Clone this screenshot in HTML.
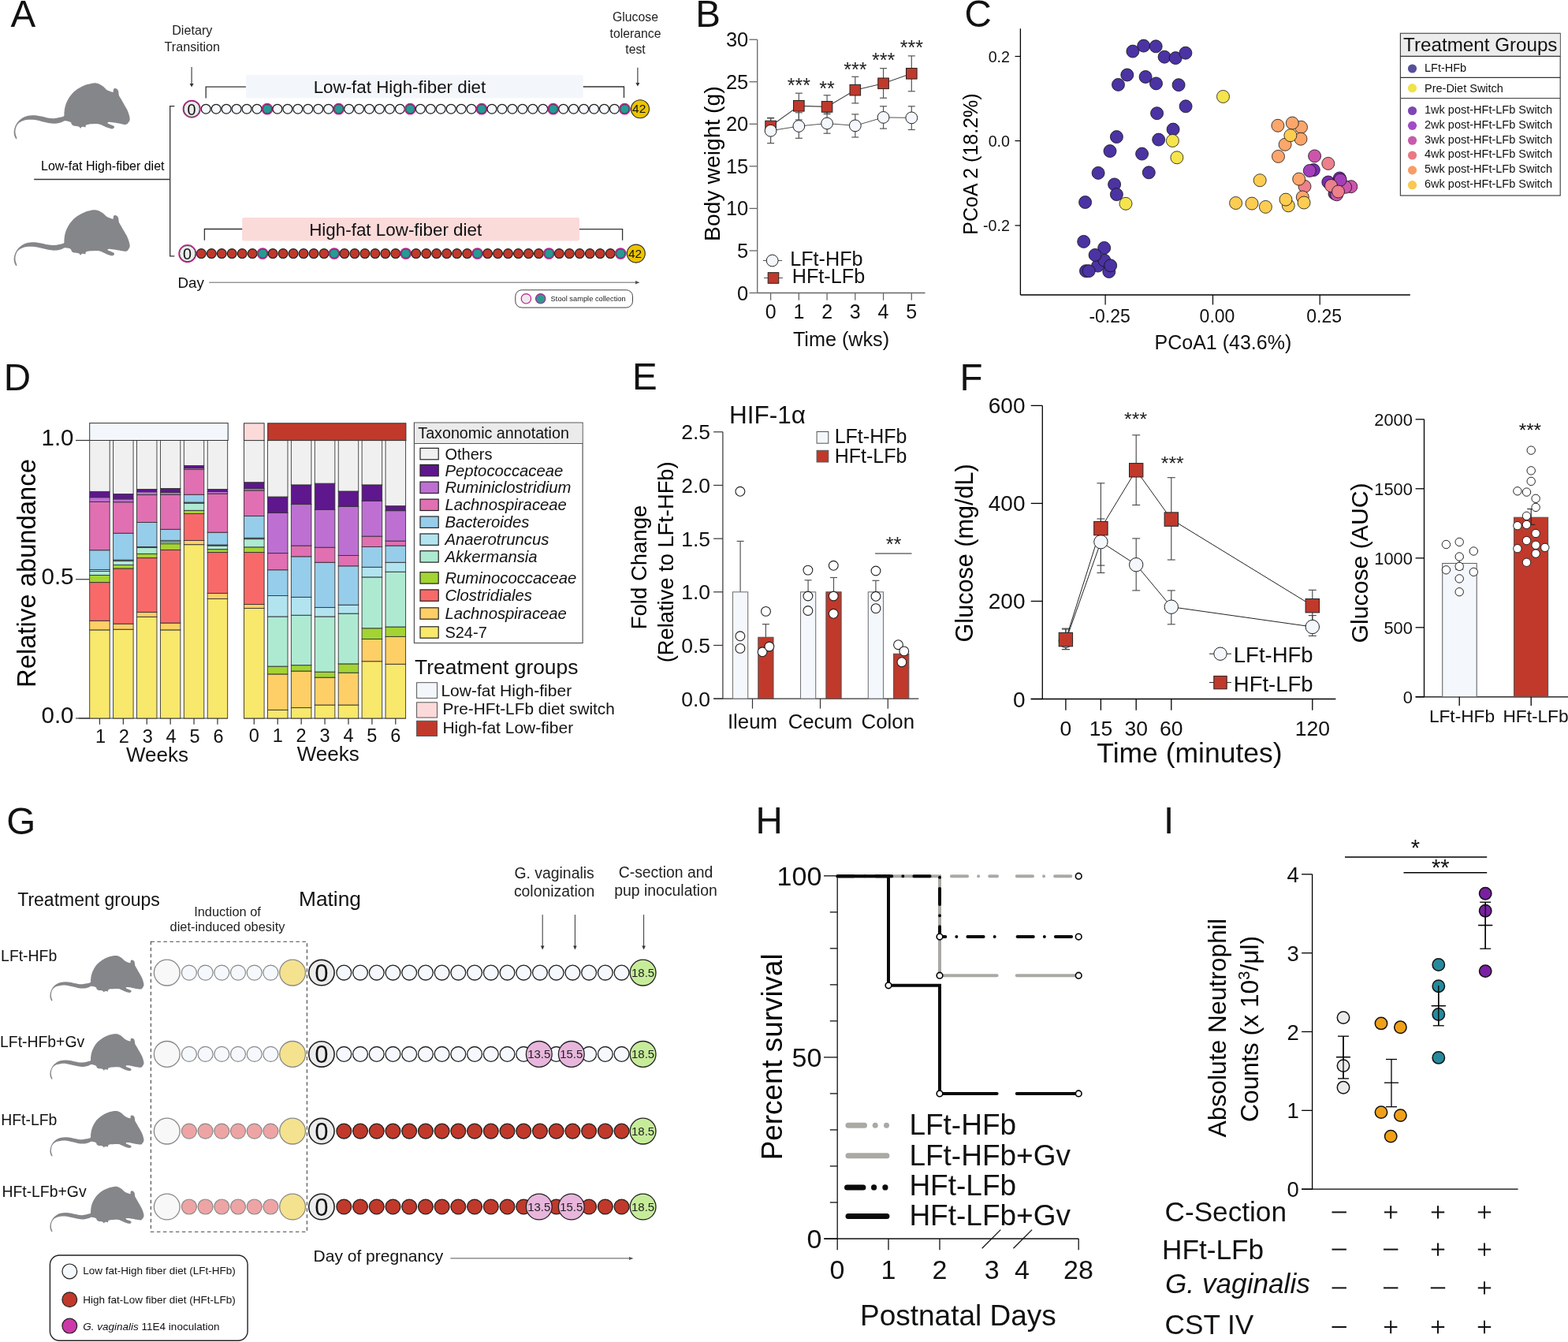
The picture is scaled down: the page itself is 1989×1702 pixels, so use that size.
<!DOCTYPE html>
<html><head><meta charset="utf-8"><title>Figure</title>
<style>html,body{margin:0;padding:0;background:#fff;}svg{display:block;}</style>
</head><body>
<svg width="1989" height="1702" viewBox="0 0 1989 1702" font-family='"Liberation Sans", Arial, Helvetica, sans-serif'>
<defs><path id="mouse" d="M70.94 52.31C69.86 53.33 67.09 53.55 64.96 54.02C62.82 54.49 60.54 55.06 58.12 55.13C55.7 55.2 53.28 54.91 50.43 54.44C47.58 53.97 44.02 52.83 41.03 52.31C38.03 51.78 35.33 51.28 32.48 51.28C29.63 51.28 26.5 51.6 23.93 52.31C21.37 53.02 19.16 54.09 17.09 55.56C15.03 57.02 12.99 59.05 11.54 61.11C10.09 63.18 9.02 65.74 8.38 67.95C7.74 70.16 7.59 72.51 7.69 74.36C7.79 76.21 8.48 77.89 8.97 79.06C9.47 80.23 10.3 81.23 10.68 81.37C11.07 81.51 11.47 81.08 11.28 79.91C11.1 78.75 9.8 76.35 9.57 74.36C9.34 72.36 9.34 70.01 9.91 67.95C10.48 65.88 11.51 63.58 12.99 61.97C14.47 60.36 16.7 59.15 18.8 58.29C20.91 57.44 23.08 57.04 25.64 56.84C28.21 56.64 31.34 56.74 34.19 57.09C37.04 57.45 39.89 58.33 42.74 58.97C45.58 59.62 48.43 60.48 51.28 60.94C54.13 61.4 57.12 61.82 59.83 61.71C62.54 61.6 65.46 60.83 67.52 60.26C69.59 59.69 70.66 58.5 72.22 58.29C73.79 58.08 75.64 58.65 76.92 58.97C78.21 59.3 79.2 59.57 79.91 60.26C80.63 60.94 80.48 62.34 81.2 63.08C81.91 63.82 82.76 64.32 84.19 64.7C85.61 65.09 88.42 64.89 89.74 65.38C91.07 65.88 91.54 67.55 92.14 67.69C92.74 67.83 92.76 66.55 93.33 66.24C93.9 65.93 94.73 65.78 95.56 65.81C96.38 65.84 97.72 66.72 98.29 66.41C98.86 66.1 98.26 64.56 98.97 63.93C99.69 63.3 99.97 62.93 102.56 62.65C105.16 62.36 111.4 61.88 114.53 62.22C117.66 62.56 119.4 63.93 121.37 64.7C123.33 65.47 124.54 66.23 126.32 66.84C128.11 67.45 130.63 68.38 132.05 68.38C133.48 68.38 134.49 67.44 134.87 66.84C135.26 66.24 134.97 65.36 134.36 64.79C133.75 64.22 132.39 63.93 131.2 63.42C130 62.91 127.93 62.24 127.18 61.71C126.42 61.18 126.28 60.57 126.67 60.26C127.05 59.94 127.81 59.73 129.49 59.83C131.17 59.93 134.12 60.43 136.75 60.85C139.39 61.28 143.05 62.07 145.3 62.39C147.55 62.72 148.95 63.22 150.26 62.82C151.57 62.42 152.42 61.07 153.16 60C153.9 58.93 154.59 57.86 154.7 56.41C154.81 54.96 154.39 53.25 153.85 51.28C153.3 49.32 152.56 47.01 151.45 44.62C150.34 42.22 148.6 39.44 147.18 36.92C145.75 34.4 143.96 31.37 142.91 29.49C141.85 27.61 141.31 27.07 140.85 25.64C140.4 24.22 140.6 22.25 140.17 20.94C139.74 19.63 139.12 18.42 138.29 17.78C137.46 17.14 135.95 16.89 135.21 17.09C134.47 17.29 134.16 18.19 133.85 18.97C133.53 19.76 134.27 21.6 133.33 21.79C132.39 21.99 129.63 20.74 128.21 20.17C126.78 19.6 126.21 19.43 124.79 18.38C123.36 17.32 121.51 15.11 119.66 13.85C117.81 12.58 115.53 11.34 113.68 10.77C111.82 10.2 111.11 10.09 108.55 10.43C105.98 10.77 101.42 11.71 98.29 12.82C95.16 13.93 92.42 15.38 89.74 17.09C87.07 18.8 84.5 20.66 82.22 23.08C79.94 25.5 77.66 28.77 76.07 31.62C74.47 34.47 73.42 37.46 72.65 40.17C71.88 42.88 71.74 45.84 71.45 47.86C71.17 49.89 72.02 51.28 70.94 52.31Z" fill="#858689"/></defs>
<rect width="1989" height="1702" fill="#fff"/>
<text x="13.6" y="33.5" font-size="47.5" text-anchor="start" fill="#111">A</text>
<use href="#mouse" transform="translate(10 95) scale(1)"/>
<use href="#mouse" transform="translate(10 255.9) scale(1)"/>
<text x="52" y="216.2" font-size="16" text-anchor="start" fill="#000">Low-fat High-fiber diet</text>
<line x1="43.2" y1="227.5" x2="215.7" y2="227.5" stroke="#333" stroke-width="1.3"/>
<path d="M221.4 134.7 H215.7 V324.8 H221.4" fill="none" stroke="#333" stroke-width="1.3"/>
<text x="243.8" y="44" font-size="16.2" text-anchor="middle" fill="#222">Dietary</text>
<text x="243.8" y="64.9" font-size="16.2" text-anchor="middle" fill="#222">Transition</text>
<line x1="243.1" y1="85" x2="243.1" y2="108" stroke="#333" stroke-width="1.1"/>
<path d="M240.6 106 L243.1 110.5 L245.6 106 Z" fill="#333" stroke="none" stroke-width="1"/>
<text x="806" y="27" font-size="15.8" text-anchor="middle" fill="#222">Glucose</text>
<text x="806" y="48" font-size="15.8" text-anchor="middle" fill="#222">tolerance</text>
<text x="806" y="68" font-size="15.8" text-anchor="middle" fill="#222">test</text>
<line x1="808.9" y1="85.8" x2="808.9" y2="107" stroke="#333" stroke-width="1.1"/>
<path d="M806.4 105 L808.9 109.5 L811.4 105 Z" fill="#333" stroke="none" stroke-width="1"/>
<rect x="311.9" y="95.1" width="427.9" height="29.5" fill="#f3f7fc" stroke="none" stroke-width="1" rx="2"/>
<text x="397.7" y="117.5" font-size="22.35" text-anchor="start" fill="#111">Low-fat High-fiber diet</text>
<path d="M261.2 124.6 V110.2 H311.9" fill="none" stroke="#333" stroke-width="1.3"/>
<path d="M739.8 110 H791.5 V123.9" fill="none" stroke="#333" stroke-width="1.3"/>
<rect x="307.2" y="276" width="427.8" height="29.4" fill="#fbdada" stroke="none" stroke-width="1" rx="2"/>
<text x="392.2" y="298.6" font-size="22.4" text-anchor="start" fill="#111">High-fat Low-fiber diet</text>
<path d="M259.4 304.7 V290.5 H307.2" fill="none" stroke="#333" stroke-width="1.3"/>
<path d="M735 290.7 H789.6 V304.8" fill="none" stroke="#333" stroke-width="1.3"/>
<circle cx="261.2" cy="138.2" r="5.9" fill="#f5f8fd" stroke="#1e1e1e" stroke-width="1.2"/>
<circle cx="274.16" cy="138.2" r="5.9" fill="#f5f8fd" stroke="#1e1e1e" stroke-width="1.2"/>
<circle cx="287.11" cy="138.2" r="5.9" fill="#f5f8fd" stroke="#1e1e1e" stroke-width="1.2"/>
<circle cx="300.07" cy="138.2" r="5.9" fill="#f5f8fd" stroke="#1e1e1e" stroke-width="1.2"/>
<circle cx="313.02" cy="138.2" r="5.9" fill="#f5f8fd" stroke="#1e1e1e" stroke-width="1.2"/>
<circle cx="325.98" cy="138.2" r="5.9" fill="#f5f8fd" stroke="#1e1e1e" stroke-width="1.2"/>
<circle cx="338.94" cy="138.2" r="6.6" fill="none" stroke="#c81e96" stroke-width="1.6"/>
<circle cx="338.94" cy="138.2" r="5.6" fill="#269a94" stroke="#2a2a2a" stroke-width="0.8"/>
<circle cx="351.89" cy="138.2" r="5.9" fill="#f5f8fd" stroke="#1e1e1e" stroke-width="1.2"/>
<circle cx="364.85" cy="138.2" r="5.9" fill="#f5f8fd" stroke="#1e1e1e" stroke-width="1.2"/>
<circle cx="377.8" cy="138.2" r="5.9" fill="#f5f8fd" stroke="#1e1e1e" stroke-width="1.2"/>
<circle cx="390.76" cy="138.2" r="5.9" fill="#f5f8fd" stroke="#1e1e1e" stroke-width="1.2"/>
<circle cx="403.72" cy="138.2" r="5.9" fill="#f5f8fd" stroke="#1e1e1e" stroke-width="1.2"/>
<circle cx="416.67" cy="138.2" r="5.9" fill="#f5f8fd" stroke="#1e1e1e" stroke-width="1.2"/>
<circle cx="429.63" cy="138.2" r="6.6" fill="none" stroke="#c81e96" stroke-width="1.6"/>
<circle cx="429.63" cy="138.2" r="5.6" fill="#269a94" stroke="#2a2a2a" stroke-width="0.8"/>
<circle cx="442.59" cy="138.2" r="5.9" fill="#f5f8fd" stroke="#1e1e1e" stroke-width="1.2"/>
<circle cx="455.54" cy="138.2" r="5.9" fill="#f5f8fd" stroke="#1e1e1e" stroke-width="1.2"/>
<circle cx="468.5" cy="138.2" r="5.9" fill="#f5f8fd" stroke="#1e1e1e" stroke-width="1.2"/>
<circle cx="481.45" cy="138.2" r="5.9" fill="#f5f8fd" stroke="#1e1e1e" stroke-width="1.2"/>
<circle cx="494.41" cy="138.2" r="5.9" fill="#f5f8fd" stroke="#1e1e1e" stroke-width="1.2"/>
<circle cx="507.37" cy="138.2" r="5.9" fill="#f5f8fd" stroke="#1e1e1e" stroke-width="1.2"/>
<circle cx="520.32" cy="138.2" r="6.6" fill="none" stroke="#c81e96" stroke-width="1.6"/>
<circle cx="520.32" cy="138.2" r="5.6" fill="#269a94" stroke="#2a2a2a" stroke-width="0.8"/>
<circle cx="533.28" cy="138.2" r="5.9" fill="#f5f8fd" stroke="#1e1e1e" stroke-width="1.2"/>
<circle cx="546.23" cy="138.2" r="5.9" fill="#f5f8fd" stroke="#1e1e1e" stroke-width="1.2"/>
<circle cx="559.19" cy="138.2" r="5.9" fill="#f5f8fd" stroke="#1e1e1e" stroke-width="1.2"/>
<circle cx="572.15" cy="138.2" r="5.9" fill="#f5f8fd" stroke="#1e1e1e" stroke-width="1.2"/>
<circle cx="585.1" cy="138.2" r="5.9" fill="#f5f8fd" stroke="#1e1e1e" stroke-width="1.2"/>
<circle cx="598.06" cy="138.2" r="5.9" fill="#f5f8fd" stroke="#1e1e1e" stroke-width="1.2"/>
<circle cx="611.01" cy="138.2" r="6.6" fill="none" stroke="#c81e96" stroke-width="1.6"/>
<circle cx="611.01" cy="138.2" r="5.6" fill="#269a94" stroke="#2a2a2a" stroke-width="0.8"/>
<circle cx="623.97" cy="138.2" r="5.9" fill="#f5f8fd" stroke="#1e1e1e" stroke-width="1.2"/>
<circle cx="636.93" cy="138.2" r="5.9" fill="#f5f8fd" stroke="#1e1e1e" stroke-width="1.2"/>
<circle cx="649.88" cy="138.2" r="5.9" fill="#f5f8fd" stroke="#1e1e1e" stroke-width="1.2"/>
<circle cx="662.84" cy="138.2" r="5.9" fill="#f5f8fd" stroke="#1e1e1e" stroke-width="1.2"/>
<circle cx="675.8" cy="138.2" r="5.9" fill="#f5f8fd" stroke="#1e1e1e" stroke-width="1.2"/>
<circle cx="688.75" cy="138.2" r="5.9" fill="#f5f8fd" stroke="#1e1e1e" stroke-width="1.2"/>
<circle cx="701.71" cy="138.2" r="6.6" fill="none" stroke="#c81e96" stroke-width="1.6"/>
<circle cx="701.71" cy="138.2" r="5.6" fill="#269a94" stroke="#2a2a2a" stroke-width="0.8"/>
<circle cx="714.66" cy="138.2" r="5.9" fill="#f5f8fd" stroke="#1e1e1e" stroke-width="1.2"/>
<circle cx="727.62" cy="138.2" r="5.9" fill="#f5f8fd" stroke="#1e1e1e" stroke-width="1.2"/>
<circle cx="740.58" cy="138.2" r="5.9" fill="#f5f8fd" stroke="#1e1e1e" stroke-width="1.2"/>
<circle cx="753.53" cy="138.2" r="5.9" fill="#f5f8fd" stroke="#1e1e1e" stroke-width="1.2"/>
<circle cx="766.49" cy="138.2" r="5.9" fill="#f5f8fd" stroke="#1e1e1e" stroke-width="1.2"/>
<circle cx="779.44" cy="138.2" r="5.9" fill="#f5f8fd" stroke="#1e1e1e" stroke-width="1.2"/>
<circle cx="792.4" cy="138.2" r="6.6" fill="none" stroke="#c81e96" stroke-width="1.6"/>
<circle cx="792.4" cy="138.2" r="5.6" fill="#269a94" stroke="#2a2a2a" stroke-width="0.8"/>
<circle cx="243.2" cy="138.2" r="10.9" fill="#ebebeb" stroke="#c81e96" stroke-width="1.3"/>
<circle cx="243.2" cy="138.2" r="10.1" fill="none" stroke="#2a2a2a" stroke-width="0.8"/>
<text x="242.9" y="145.6" font-size="19.8" text-anchor="middle" fill="#111">0</text>
<circle cx="812" cy="138.2" r="11.5" fill="#ecc400" stroke="#2a2a2a" stroke-width="1.1"/>
<text x="810.7" y="143.3" font-size="15.5" text-anchor="middle" fill="#111">42</text>
<circle cx="255.3" cy="321.6" r="5.9" fill="#c0392b" stroke="#1e1e1e" stroke-width="1.2"/>
<circle cx="268.27" cy="321.6" r="5.9" fill="#c0392b" stroke="#1e1e1e" stroke-width="1.2"/>
<circle cx="281.25" cy="321.6" r="5.9" fill="#c0392b" stroke="#1e1e1e" stroke-width="1.2"/>
<circle cx="294.22" cy="321.6" r="5.9" fill="#c0392b" stroke="#1e1e1e" stroke-width="1.2"/>
<circle cx="307.19" cy="321.6" r="5.9" fill="#c0392b" stroke="#1e1e1e" stroke-width="1.2"/>
<circle cx="320.17" cy="321.6" r="5.9" fill="#c0392b" stroke="#1e1e1e" stroke-width="1.2"/>
<circle cx="333.14" cy="321.6" r="6.6" fill="none" stroke="#c81e96" stroke-width="1.6"/>
<circle cx="333.14" cy="321.6" r="5.6" fill="#269a94" stroke="#2a2a2a" stroke-width="0.8"/>
<circle cx="346.11" cy="321.6" r="5.9" fill="#c0392b" stroke="#1e1e1e" stroke-width="1.2"/>
<circle cx="359.09" cy="321.6" r="5.9" fill="#c0392b" stroke="#1e1e1e" stroke-width="1.2"/>
<circle cx="372.06" cy="321.6" r="5.9" fill="#c0392b" stroke="#1e1e1e" stroke-width="1.2"/>
<circle cx="385.03" cy="321.6" r="5.9" fill="#c0392b" stroke="#1e1e1e" stroke-width="1.2"/>
<circle cx="398" cy="321.6" r="5.9" fill="#c0392b" stroke="#1e1e1e" stroke-width="1.2"/>
<circle cx="410.98" cy="321.6" r="5.9" fill="#c0392b" stroke="#1e1e1e" stroke-width="1.2"/>
<circle cx="423.95" cy="321.6" r="6.6" fill="none" stroke="#c81e96" stroke-width="1.6"/>
<circle cx="423.95" cy="321.6" r="5.6" fill="#269a94" stroke="#2a2a2a" stroke-width="0.8"/>
<circle cx="436.92" cy="321.6" r="5.9" fill="#c0392b" stroke="#1e1e1e" stroke-width="1.2"/>
<circle cx="449.9" cy="321.6" r="5.9" fill="#c0392b" stroke="#1e1e1e" stroke-width="1.2"/>
<circle cx="462.87" cy="321.6" r="5.9" fill="#c0392b" stroke="#1e1e1e" stroke-width="1.2"/>
<circle cx="475.84" cy="321.6" r="5.9" fill="#c0392b" stroke="#1e1e1e" stroke-width="1.2"/>
<circle cx="488.82" cy="321.6" r="5.9" fill="#c0392b" stroke="#1e1e1e" stroke-width="1.2"/>
<circle cx="501.79" cy="321.6" r="5.9" fill="#c0392b" stroke="#1e1e1e" stroke-width="1.2"/>
<circle cx="514.76" cy="321.6" r="6.6" fill="none" stroke="#c81e96" stroke-width="1.6"/>
<circle cx="514.76" cy="321.6" r="5.6" fill="#269a94" stroke="#2a2a2a" stroke-width="0.8"/>
<circle cx="527.74" cy="321.6" r="5.9" fill="#c0392b" stroke="#1e1e1e" stroke-width="1.2"/>
<circle cx="540.71" cy="321.6" r="5.9" fill="#c0392b" stroke="#1e1e1e" stroke-width="1.2"/>
<circle cx="553.68" cy="321.6" r="5.9" fill="#c0392b" stroke="#1e1e1e" stroke-width="1.2"/>
<circle cx="566.66" cy="321.6" r="5.9" fill="#c0392b" stroke="#1e1e1e" stroke-width="1.2"/>
<circle cx="579.63" cy="321.6" r="5.9" fill="#c0392b" stroke="#1e1e1e" stroke-width="1.2"/>
<circle cx="592.6" cy="321.6" r="5.9" fill="#c0392b" stroke="#1e1e1e" stroke-width="1.2"/>
<circle cx="605.58" cy="321.6" r="6.6" fill="none" stroke="#c81e96" stroke-width="1.6"/>
<circle cx="605.58" cy="321.6" r="5.6" fill="#269a94" stroke="#2a2a2a" stroke-width="0.8"/>
<circle cx="618.55" cy="321.6" r="5.9" fill="#c0392b" stroke="#1e1e1e" stroke-width="1.2"/>
<circle cx="631.52" cy="321.6" r="5.9" fill="#c0392b" stroke="#1e1e1e" stroke-width="1.2"/>
<circle cx="644.5" cy="321.6" r="5.9" fill="#c0392b" stroke="#1e1e1e" stroke-width="1.2"/>
<circle cx="657.47" cy="321.6" r="5.9" fill="#c0392b" stroke="#1e1e1e" stroke-width="1.2"/>
<circle cx="670.44" cy="321.6" r="5.9" fill="#c0392b" stroke="#1e1e1e" stroke-width="1.2"/>
<circle cx="683.41" cy="321.6" r="5.9" fill="#c0392b" stroke="#1e1e1e" stroke-width="1.2"/>
<circle cx="696.39" cy="321.6" r="6.6" fill="none" stroke="#c81e96" stroke-width="1.6"/>
<circle cx="696.39" cy="321.6" r="5.6" fill="#269a94" stroke="#2a2a2a" stroke-width="0.8"/>
<circle cx="709.36" cy="321.6" r="5.9" fill="#c0392b" stroke="#1e1e1e" stroke-width="1.2"/>
<circle cx="722.33" cy="321.6" r="5.9" fill="#c0392b" stroke="#1e1e1e" stroke-width="1.2"/>
<circle cx="735.31" cy="321.6" r="5.9" fill="#c0392b" stroke="#1e1e1e" stroke-width="1.2"/>
<circle cx="748.28" cy="321.6" r="5.9" fill="#c0392b" stroke="#1e1e1e" stroke-width="1.2"/>
<circle cx="761.25" cy="321.6" r="5.9" fill="#c0392b" stroke="#1e1e1e" stroke-width="1.2"/>
<circle cx="774.23" cy="321.6" r="5.9" fill="#c0392b" stroke="#1e1e1e" stroke-width="1.2"/>
<circle cx="787.2" cy="321.6" r="6.6" fill="none" stroke="#c81e96" stroke-width="1.6"/>
<circle cx="787.2" cy="321.6" r="5.6" fill="#269a94" stroke="#2a2a2a" stroke-width="0.8"/>
<circle cx="237.8" cy="321.6" r="10.9" fill="#ebebeb" stroke="#c81e96" stroke-width="1.3"/>
<circle cx="237.8" cy="321.6" r="10.1" fill="none" stroke="#2a2a2a" stroke-width="0.8"/>
<text x="237.5" y="329" font-size="19.8" text-anchor="middle" fill="#111">0</text>
<circle cx="806.8" cy="321.6" r="11.5" fill="#ecc400" stroke="#2a2a2a" stroke-width="1.1"/>
<text x="805.5" y="326.7" font-size="15.5" text-anchor="middle" fill="#111">42</text>
<text x="225.5" y="364.5" font-size="18.8" text-anchor="start" fill="#111">Day</text>
<line x1="265.2" y1="358.2" x2="809" y2="358.2" stroke="#555" stroke-width="0.9"/>
<path d="M806 356 L811.5 358.2 L806 360.4 Z" fill="#555" stroke="none" stroke-width="1"/>
<rect x="653.8" y="367.8" width="148.7" height="22.3" fill="#fff" stroke="#444" stroke-width="1" rx="8"/>
<circle cx="667.4" cy="378.8" r="6.2" fill="#ebebeb" stroke="#c0188e" stroke-width="1.2"/>
<circle cx="685.7" cy="378.8" r="6.2" fill="#2a9a92" stroke="#c0188e" stroke-width="1.2"/>
<text x="698.6" y="382.2" font-size="9.3" text-anchor="start" fill="#222">Stool sample collection</text>
<text x="882.3" y="33.6" font-size="47.5" text-anchor="start" fill="#111">B</text>
<line x1="960.7" y1="50.2" x2="960.7" y2="371.5" stroke="#666" stroke-width="1.3"/>
<line x1="960.7" y1="371.5" x2="1173.5" y2="371.5" stroke="#666" stroke-width="1.3"/>
<line x1="950.6" y1="371.5" x2="960.7" y2="371.5" stroke="#666" stroke-width="1.3"/>
<text x="949.3" y="380.5" font-size="25.5" text-anchor="end" fill="#111">0</text>
<line x1="950.6" y1="317.95" x2="960.7" y2="317.95" stroke="#666" stroke-width="1.3"/>
<text x="949.3" y="326.95" font-size="25.5" text-anchor="end" fill="#111">5</text>
<line x1="950.6" y1="264.4" x2="960.7" y2="264.4" stroke="#666" stroke-width="1.3"/>
<text x="949.3" y="273.4" font-size="25.5" text-anchor="end" fill="#111">10</text>
<line x1="950.6" y1="210.85" x2="960.7" y2="210.85" stroke="#666" stroke-width="1.3"/>
<text x="949.3" y="219.85" font-size="25.5" text-anchor="end" fill="#111">15</text>
<line x1="950.6" y1="157.3" x2="960.7" y2="157.3" stroke="#666" stroke-width="1.3"/>
<text x="949.3" y="166.3" font-size="25.5" text-anchor="end" fill="#111">20</text>
<line x1="950.6" y1="103.75" x2="960.7" y2="103.75" stroke="#666" stroke-width="1.3"/>
<text x="949.3" y="112.75" font-size="25.5" text-anchor="end" fill="#111">25</text>
<line x1="950.6" y1="50.2" x2="960.7" y2="50.2" stroke="#666" stroke-width="1.3"/>
<text x="949.3" y="59.2" font-size="25.5" text-anchor="end" fill="#111">30</text>
<line x1="977.6" y1="371.5" x2="977.6" y2="380.8" stroke="#666" stroke-width="1.3"/>
<text x="977.6" y="404.2" font-size="25" text-anchor="middle" fill="#111">0</text>
<line x1="1013.34" y1="371.5" x2="1013.34" y2="380.8" stroke="#666" stroke-width="1.3"/>
<text x="1013.34" y="404.2" font-size="25" text-anchor="middle" fill="#111">1</text>
<line x1="1049.08" y1="371.5" x2="1049.08" y2="380.8" stroke="#666" stroke-width="1.3"/>
<text x="1049.08" y="404.2" font-size="25" text-anchor="middle" fill="#111">2</text>
<line x1="1084.82" y1="371.5" x2="1084.82" y2="380.8" stroke="#666" stroke-width="1.3"/>
<text x="1084.82" y="404.2" font-size="25" text-anchor="middle" fill="#111">3</text>
<line x1="1120.56" y1="371.5" x2="1120.56" y2="380.8" stroke="#666" stroke-width="1.3"/>
<text x="1120.56" y="404.2" font-size="25" text-anchor="middle" fill="#111">4</text>
<line x1="1156.3" y1="371.5" x2="1156.3" y2="380.8" stroke="#666" stroke-width="1.3"/>
<text x="1156.3" y="404.2" font-size="25" text-anchor="middle" fill="#111">5</text>
<text x="1067" y="439.3" font-size="25.2" text-anchor="middle" fill="#111">Time (wks)</text>
<text x="0" y="0" font-size="28.3" text-anchor="middle" fill="#000" transform="translate(912.8 207.6) rotate(-90)">Body weight (g)</text>
<line x1="977.6" y1="150" x2="977.6" y2="170" stroke="#555" stroke-width="1.2"/>
<line x1="973.1" y1="150" x2="982.1" y2="150" stroke="#555" stroke-width="1.2"/>
<line x1="973.1" y1="170" x2="982.1" y2="170" stroke="#555" stroke-width="1.2"/>
<line x1="1013.34" y1="118.2" x2="1013.34" y2="152" stroke="#555" stroke-width="1.2"/>
<line x1="1008.84" y1="118.2" x2="1017.84" y2="118.2" stroke="#555" stroke-width="1.2"/>
<line x1="1008.84" y1="152" x2="1017.84" y2="152" stroke="#555" stroke-width="1.2"/>
<line x1="1049.08" y1="120.8" x2="1049.08" y2="144.6" stroke="#555" stroke-width="1.2"/>
<line x1="1044.58" y1="120.8" x2="1053.58" y2="120.8" stroke="#555" stroke-width="1.2"/>
<line x1="1044.58" y1="144.6" x2="1053.58" y2="144.6" stroke="#555" stroke-width="1.2"/>
<line x1="1084.82" y1="97.3" x2="1084.82" y2="130.9" stroke="#555" stroke-width="1.2"/>
<line x1="1080.32" y1="97.3" x2="1089.32" y2="97.3" stroke="#555" stroke-width="1.2"/>
<line x1="1080.32" y1="130.9" x2="1089.32" y2="130.9" stroke="#555" stroke-width="1.2"/>
<line x1="1120.56" y1="86.7" x2="1120.56" y2="124.3" stroke="#555" stroke-width="1.2"/>
<line x1="1116.06" y1="86.7" x2="1125.06" y2="86.7" stroke="#555" stroke-width="1.2"/>
<line x1="1116.06" y1="124.3" x2="1125.06" y2="124.3" stroke="#555" stroke-width="1.2"/>
<line x1="1156.3" y1="70.9" x2="1156.3" y2="115.8" stroke="#555" stroke-width="1.2"/>
<line x1="1151.8" y1="70.9" x2="1160.8" y2="70.9" stroke="#555" stroke-width="1.2"/>
<line x1="1151.8" y1="115.8" x2="1160.8" y2="115.8" stroke="#555" stroke-width="1.2"/>
<line x1="977.6" y1="149.4" x2="977.6" y2="181.6" stroke="#555" stroke-width="1.2"/>
<line x1="973.1" y1="149.4" x2="982.1" y2="149.4" stroke="#555" stroke-width="1.2"/>
<line x1="973.1" y1="181.6" x2="982.1" y2="181.6" stroke="#555" stroke-width="1.2"/>
<line x1="1013.34" y1="142.8" x2="1013.34" y2="175.3" stroke="#555" stroke-width="1.2"/>
<line x1="1008.84" y1="142.8" x2="1017.84" y2="142.8" stroke="#555" stroke-width="1.2"/>
<line x1="1008.84" y1="175.3" x2="1017.84" y2="175.3" stroke="#555" stroke-width="1.2"/>
<line x1="1049.08" y1="142.8" x2="1049.08" y2="169.2" stroke="#555" stroke-width="1.2"/>
<line x1="1044.58" y1="142.8" x2="1053.58" y2="142.8" stroke="#555" stroke-width="1.2"/>
<line x1="1044.58" y1="169.2" x2="1053.58" y2="169.2" stroke="#555" stroke-width="1.2"/>
<line x1="1084.82" y1="144.9" x2="1084.82" y2="174" stroke="#555" stroke-width="1.2"/>
<line x1="1080.32" y1="144.9" x2="1089.32" y2="144.9" stroke="#555" stroke-width="1.2"/>
<line x1="1080.32" y1="174" x2="1089.32" y2="174" stroke="#555" stroke-width="1.2"/>
<line x1="1120.56" y1="134.8" x2="1120.56" y2="163.1" stroke="#555" stroke-width="1.2"/>
<line x1="1116.06" y1="134.8" x2="1125.06" y2="134.8" stroke="#555" stroke-width="1.2"/>
<line x1="1116.06" y1="163.1" x2="1125.06" y2="163.1" stroke="#555" stroke-width="1.2"/>
<line x1="1156.3" y1="134.8" x2="1156.3" y2="164.5" stroke="#555" stroke-width="1.2"/>
<line x1="1151.8" y1="134.8" x2="1160.8" y2="134.8" stroke="#555" stroke-width="1.2"/>
<line x1="1151.8" y1="164.5" x2="1160.8" y2="164.5" stroke="#555" stroke-width="1.2"/>
<path d="M977.6 160 L1013.34 134.3 L1049.08 135.4 L1084.82 114.2 L1120.56 105.8 L1156.3 93.3" fill="none" stroke="#444" stroke-width="1.1"/>
<path d="M977.6 165.8 L1013.34 160 L1049.08 156.5 L1084.82 159.4 L1120.56 148.9 L1156.3 149.4" fill="none" stroke="#555" stroke-width="1"/>
<rect x="970.8" y="153.2" width="13.6" height="13.6" fill="#c0392b" stroke="#222" stroke-width="1"/>
<rect x="1006.54" y="127.5" width="13.6" height="13.6" fill="#c0392b" stroke="#222" stroke-width="1"/>
<rect x="1042.28" y="128.6" width="13.6" height="13.6" fill="#c0392b" stroke="#222" stroke-width="1"/>
<rect x="1078.02" y="107.4" width="13.6" height="13.6" fill="#c0392b" stroke="#222" stroke-width="1"/>
<rect x="1113.76" y="99" width="13.6" height="13.6" fill="#c0392b" stroke="#222" stroke-width="1"/>
<rect x="1149.5" y="86.5" width="13.6" height="13.6" fill="#c0392b" stroke="#222" stroke-width="1"/>
<circle cx="977.6" cy="165.8" r="7.4" fill="#f4f7fc" stroke="#222" stroke-width="1"/>
<circle cx="1013.34" cy="160" r="7.4" fill="#f4f7fc" stroke="#222" stroke-width="1"/>
<circle cx="1049.08" cy="156.5" r="7.4" fill="#f4f7fc" stroke="#222" stroke-width="1"/>
<circle cx="1084.82" cy="159.4" r="7.4" fill="#f4f7fc" stroke="#222" stroke-width="1"/>
<circle cx="1120.56" cy="148.9" r="7.4" fill="#f4f7fc" stroke="#222" stroke-width="1"/>
<circle cx="1156.3" cy="149.4" r="7.4" fill="#f4f7fc" stroke="#222" stroke-width="1"/>
<text x="1013.34" y="116.9" font-size="25" text-anchor="middle" fill="#222">***</text>
<text x="1049.08" y="121" font-size="25" text-anchor="middle" fill="#222">**</text>
<text x="1084.82" y="97.1" font-size="25" text-anchor="middle" fill="#222">***</text>
<text x="1120.56" y="85.2" font-size="25" text-anchor="middle" fill="#222">***</text>
<text x="1156.3" y="69.3" font-size="25" text-anchor="middle" fill="#222">***</text>
<line x1="967.8" y1="330.5" x2="992.2" y2="330.5" stroke="#555" stroke-width="1"/>
<circle cx="979.7" cy="330.5" r="7.4" fill="#f4f7fc" stroke="#222" stroke-width="1"/>
<text x="1002.2" y="336.8" font-size="25.2" text-anchor="start" fill="#111">LFt-HFb</text>
<line x1="969" y1="352.5" x2="993" y2="352.5" stroke="#555" stroke-width="1"/>
<rect x="974.2" y="345.7" width="13.6" height="13.6" fill="#c0392b" stroke="#222" stroke-width="1"/>
<text x="1004.8" y="359.3" font-size="25.2" text-anchor="start" fill="#111">HFt-LFb</text>
<text x="1223.6" y="33.7" font-size="47.5" text-anchor="start" fill="#111">C</text>
<line x1="1294.4" y1="36.2" x2="1294.4" y2="374" stroke="#000" stroke-width="1.3"/>
<line x1="1294.4" y1="374" x2="1788.8" y2="374" stroke="#000" stroke-width="1.3"/>
<line x1="1287.5" y1="71.5" x2="1294.4" y2="71.5" stroke="#000" stroke-width="1.2"/>
<text x="1281" y="78.5" font-size="19.7" text-anchor="end" fill="#111">0.2</text>
<line x1="1287.5" y1="178.6" x2="1294.4" y2="178.6" stroke="#000" stroke-width="1.2"/>
<text x="1281" y="185.6" font-size="19.7" text-anchor="end" fill="#111">0.0</text>
<line x1="1287.5" y1="286" x2="1294.4" y2="286" stroke="#000" stroke-width="1.2"/>
<text x="1281" y="293" font-size="19.7" text-anchor="end" fill="#111">-0.2</text>
<line x1="1402.1" y1="374" x2="1402.1" y2="386.5" stroke="#000" stroke-width="1.2"/>
<text x="1407.6" y="409.4" font-size="23" text-anchor="middle" fill="#111">-0.25</text>
<line x1="1538.5" y1="374" x2="1538.5" y2="386.5" stroke="#000" stroke-width="1.2"/>
<text x="1544" y="409.4" font-size="23" text-anchor="middle" fill="#111">0.00</text>
<line x1="1674.2" y1="374" x2="1674.2" y2="386.5" stroke="#000" stroke-width="1.2"/>
<text x="1679.7" y="409.4" font-size="23" text-anchor="middle" fill="#111">0.25</text>
<text x="1551.4" y="443.4" font-size="25" text-anchor="middle" fill="#111">PCoA1 (43.6%)</text>
<text x="0" y="0" font-size="25" text-anchor="middle" fill="#000" transform="translate(1240 208) rotate(-90)">PCoA 2 (18.2%)</text>
<circle cx="1436.9" cy="65.1" r="8" fill="#4b33a3" stroke="#111" stroke-width="0.8"/>
<circle cx="1450.7" cy="58.1" r="8" fill="#4b33a3" stroke="#111" stroke-width="0.8"/>
<circle cx="1466.2" cy="58.8" r="8" fill="#4b33a3" stroke="#111" stroke-width="0.8"/>
<circle cx="1477.1" cy="72.2" r="8" fill="#4b33a3" stroke="#111" stroke-width="0.8"/>
<circle cx="1491.2" cy="73.6" r="8" fill="#4b33a3" stroke="#111" stroke-width="0.8"/>
<circle cx="1503.9" cy="67.2" r="8" fill="#4b33a3" stroke="#111" stroke-width="0.8"/>
<circle cx="1429.8" cy="95" r="8" fill="#4b33a3" stroke="#111" stroke-width="0.8"/>
<circle cx="1418.5" cy="107.4" r="8" fill="#4b33a3" stroke="#111" stroke-width="0.8"/>
<circle cx="1453.1" cy="97.5" r="8" fill="#4b33a3" stroke="#111" stroke-width="0.8"/>
<circle cx="1466.5" cy="105.9" r="8" fill="#4b33a3" stroke="#111" stroke-width="0.8"/>
<circle cx="1495.1" cy="107.7" r="8" fill="#4b33a3" stroke="#111" stroke-width="0.8"/>
<circle cx="1504.1" cy="134.8" r="8" fill="#4b33a3" stroke="#111" stroke-width="0.8"/>
<circle cx="1467.6" cy="143.7" r="8" fill="#4b33a3" stroke="#111" stroke-width="0.8"/>
<circle cx="1488.1" cy="164.1" r="8" fill="#4b33a3" stroke="#111" stroke-width="0.8"/>
<circle cx="1416.4" cy="173.6" r="8" fill="#4b33a3" stroke="#111" stroke-width="0.8"/>
<circle cx="1469.7" cy="177.1" r="8" fill="#4b33a3" stroke="#111" stroke-width="0.8"/>
<circle cx="1408" cy="191.6" r="8" fill="#4b33a3" stroke="#111" stroke-width="0.8"/>
<circle cx="1448.6" cy="195.1" r="8" fill="#4b33a3" stroke="#111" stroke-width="0.8"/>
<circle cx="1393.1" cy="219.4" r="8" fill="#4b33a3" stroke="#111" stroke-width="0.8"/>
<circle cx="1457.3" cy="218.8" r="8" fill="#4b33a3" stroke="#111" stroke-width="0.8"/>
<circle cx="1413.6" cy="233.9" r="8" fill="#4b33a3" stroke="#111" stroke-width="0.8"/>
<circle cx="1416.4" cy="246.6" r="8" fill="#4b33a3" stroke="#111" stroke-width="0.8"/>
<circle cx="1376.6" cy="256.5" r="8" fill="#4b33a3" stroke="#111" stroke-width="0.8"/>
<circle cx="1551.5" cy="122.5" r="8" fill="#f5e44c" stroke="#111" stroke-width="0.8"/>
<circle cx="1487.4" cy="178.5" r="8" fill="#f5e44c" stroke="#111" stroke-width="0.8"/>
<circle cx="1492.9" cy="199.8" r="8" fill="#f5e44c" stroke="#111" stroke-width="0.8"/>
<circle cx="1428" cy="258.3" r="8" fill="#f5e44c" stroke="#111" stroke-width="0.8"/>
<circle cx="1374.7" cy="306.4" r="8" fill="#4b33a3" stroke="#111" stroke-width="0.8"/>
<circle cx="1392.6" cy="337.1" r="8" fill="#4b33a3" stroke="#111" stroke-width="0.8"/>
<circle cx="1406.8" cy="344.5" r="8" fill="#4b33a3" stroke="#111" stroke-width="0.8"/>
<circle cx="1400.8" cy="330.2" r="8" fill="#4b33a3" stroke="#111" stroke-width="0.8"/>
<circle cx="1400.7" cy="314.4" r="8" fill="#4b33a3" stroke="#111" stroke-width="0.8"/>
<circle cx="1389.1" cy="323.4" r="8" fill="#4b33a3" stroke="#111" stroke-width="0.8"/>
<circle cx="1377.5" cy="343.7" r="8" fill="#4b33a3" stroke="#111" stroke-width="0.8"/>
<circle cx="1381.2" cy="343.7" r="8" fill="#4b33a3" stroke="#111" stroke-width="0.8"/>
<circle cx="1408.7" cy="336.8" r="8" fill="#4b33a3" stroke="#111" stroke-width="0.8"/>
<circle cx="1620.9" cy="159.3" r="8" fill="#fca66b" stroke="#111" stroke-width="0.8"/>
<circle cx="1650.5" cy="161.3" r="8" fill="#fca66b" stroke="#111" stroke-width="0.8"/>
<circle cx="1639.3" cy="156.1" r="8" fill="#fca66b" stroke="#111" stroke-width="0.8"/>
<circle cx="1650" cy="176.2" r="8" fill="#fca66b" stroke="#111" stroke-width="0.8"/>
<circle cx="1630.1" cy="183.3" r="8" fill="#fca66b" stroke="#111" stroke-width="0.8"/>
<circle cx="1621.5" cy="198.4" r="8" fill="#fca66b" stroke="#111" stroke-width="0.8"/>
<circle cx="1636.9" cy="171.7" r="8" fill="#fdcd52" stroke="#111" stroke-width="0.8"/>
<circle cx="1666.3" cy="215.6" r="8" fill="#7a2bb0" stroke="#111" stroke-width="0.8"/>
<circle cx="1684.8" cy="231" r="8" fill="#7a2bb0" stroke="#111" stroke-width="0.8"/>
<circle cx="1699.3" cy="226" r="8" fill="#7a2bb0" stroke="#111" stroke-width="0.8"/>
<circle cx="1693" cy="245.4" r="8" fill="#7a2bb0" stroke="#111" stroke-width="0.8"/>
<circle cx="1667.6" cy="197.9" r="8" fill="#cc55ab" stroke="#111" stroke-width="0.8"/>
<circle cx="1713.8" cy="236.7" r="8" fill="#cc55ab" stroke="#111" stroke-width="0.8"/>
<circle cx="1706.6" cy="237.3" r="8" fill="#cc55ab" stroke="#111" stroke-width="0.8"/>
<circle cx="1695.7" cy="246.8" r="8" fill="#cc55ab" stroke="#111" stroke-width="0.8"/>
<circle cx="1661.3" cy="216.5" r="8" fill="#a43fba" stroke="#111" stroke-width="0.8"/>
<circle cx="1700.2" cy="228.2" r="8" fill="#a43fba" stroke="#111" stroke-width="0.8"/>
<circle cx="1684.8" cy="207.4" r="8" fill="#ec808c" stroke="#111" stroke-width="0.8"/>
<circle cx="1655" cy="236.4" r="8" fill="#ec808c" stroke="#111" stroke-width="0.8"/>
<circle cx="1688.5" cy="235.5" r="8" fill="#ec808c" stroke="#111" stroke-width="0.8"/>
<circle cx="1697.5" cy="243" r="8" fill="#ec808c" stroke="#111" stroke-width="0.8"/>
<circle cx="1647.7" cy="227.1" r="8" fill="#fca66b" stroke="#111" stroke-width="0.8"/>
<circle cx="1652.3" cy="250" r="8" fill="#fca66b" stroke="#111" stroke-width="0.8"/>
<circle cx="1598.2" cy="228.7" r="8" fill="#fdcd52" stroke="#111" stroke-width="0.8"/>
<circle cx="1567.6" cy="257.5" r="8" fill="#fdcd52" stroke="#111" stroke-width="0.8"/>
<circle cx="1588" cy="258.1" r="8" fill="#fdcd52" stroke="#111" stroke-width="0.8"/>
<circle cx="1605.4" cy="262.4" r="8" fill="#fdcd52" stroke="#111" stroke-width="0.8"/>
<circle cx="1634.3" cy="260.8" r="8" fill="#fdcd52" stroke="#111" stroke-width="0.8"/>
<circle cx="1631" cy="253.1" r="8" fill="#fdcd52" stroke="#111" stroke-width="0.8"/>
<circle cx="1654.1" cy="257" r="8" fill="#fdcd52" stroke="#111" stroke-width="0.8"/>
<rect x="1776.4" y="42.3" width="202.8" height="205.7" fill="#fff" stroke="#444" stroke-width="1.2"/>
<rect x="1777" y="42.9" width="201.6" height="28.3" fill="#ebeceb" stroke="none" stroke-width="1"/>
<line x1="1776.4" y1="71.4" x2="1979.2" y2="71.4" stroke="#333" stroke-width="1.2"/>
<line x1="1776.4" y1="98.4" x2="1979.2" y2="98.4" stroke="#333" stroke-width="1.2"/>
<line x1="1776.4" y1="124.6" x2="1979.2" y2="124.6" stroke="#555" stroke-width="1.2"/>
<text x="1780.1" y="64.8" font-size="24.2" text-anchor="start" fill="#111">Treatment Groups</text>
<circle cx="1791.5" cy="87" r="5.6" fill="#56509c" stroke="none" stroke-width="0"/>
<text x="1807" y="90.8" font-size="14.5" text-anchor="start" fill="#111">LFt-HFb</text>
<circle cx="1791.5" cy="111.7" r="5.6" fill="#f0e24a" stroke="none" stroke-width="0"/>
<text x="1807" y="117.2" font-size="14.5" text-anchor="start" fill="#111">Pre-Diet Switch</text>
<circle cx="1791.5" cy="140.5" r="5.6" fill="#7c46b4" stroke="none" stroke-width="0"/>
<text x="1807" y="144" font-size="14.5" text-anchor="start" fill="#111">1wk post-HFt-LFb Switch</text>
<circle cx="1791.5" cy="159.34" r="5.6" fill="#a14cc6" stroke="none" stroke-width="0"/>
<text x="1807" y="162.8" font-size="14.5" text-anchor="start" fill="#111">2wk post-HFt-LFb Switch</text>
<circle cx="1791.5" cy="178.18" r="5.6" fill="#c85aaa" stroke="none" stroke-width="0"/>
<text x="1807" y="181.6" font-size="14.5" text-anchor="start" fill="#111">3wk post-HFt-LFb Switch</text>
<circle cx="1791.5" cy="197.02" r="5.6" fill="#e87a84" stroke="none" stroke-width="0"/>
<text x="1807" y="200.4" font-size="14.5" text-anchor="start" fill="#111">4wk post-HFt-LFb Switch</text>
<circle cx="1791.5" cy="215.86" r="5.6" fill="#f89c66" stroke="none" stroke-width="0"/>
<text x="1807" y="219.2" font-size="14.5" text-anchor="start" fill="#111">5wk post-HFt-LFb Switch</text>
<circle cx="1791.5" cy="234.7" r="5.6" fill="#f9c84e" stroke="none" stroke-width="0"/>
<text x="1807" y="238" font-size="14.5" text-anchor="start" fill="#111">6wk post-HFt-LFb Switch</text>
<text x="4.85" y="494.7" font-size="47.5" text-anchor="start" fill="#111">D</text>
<line x1="99.7" y1="911" x2="289" y2="911" stroke="#333" stroke-width="1.2"/>
<line x1="96" y1="558.5" x2="113.7" y2="558.5" stroke="#333" stroke-width="1.2"/>
<text x="93.5" y="564.5" font-size="29.5" text-anchor="end" fill="#111">1.0</text>
<line x1="96" y1="734.75" x2="113.7" y2="734.75" stroke="#333" stroke-width="1.2"/>
<text x="93.5" y="740.75" font-size="29.5" text-anchor="end" fill="#111">0.5</text>
<line x1="96" y1="911" x2="113.7" y2="911" stroke="#333" stroke-width="1.2"/>
<text x="93.5" y="917" font-size="29.5" text-anchor="end" fill="#111">0.0</text>
<text x="0" y="0" font-size="32.8" text-anchor="middle" fill="#000" transform="translate(45 727) rotate(-90)">Relative abundance</text>
<rect x="113.7" y="798.9" width="25.5" height="112.09" fill="#f8e86c" stroke="#333" stroke-width="0.9"/>
<rect x="113.7" y="787.27" width="25.5" height="11.63" fill="#fecf66" stroke="#333" stroke-width="0.9"/>
<rect x="113.7" y="738.63" width="25.5" height="48.65" fill="#f86a6a" stroke="#333" stroke-width="0.9"/>
<rect x="113.7" y="729.46" width="25.5" height="9.17" fill="#a3d433" stroke="#333" stroke-width="0.9"/>
<rect x="113.7" y="724.53" width="25.5" height="4.94" fill="#aeead2" stroke="#333" stroke-width="0.9"/>
<rect x="113.7" y="722.41" width="25.5" height="2.12" fill="#b2e4f0" stroke="#333" stroke-width="0.9"/>
<rect x="113.7" y="697.74" width="25.5" height="24.67" fill="#96cdea" stroke="#333" stroke-width="0.9"/>
<rect x="113.7" y="636.4" width="25.5" height="61.34" fill="#e070b2" stroke="#333" stroke-width="0.9"/>
<rect x="113.7" y="630.76" width="25.5" height="5.64" fill="#bd70d2" stroke="#333" stroke-width="0.9"/>
<rect x="113.7" y="623.36" width="25.5" height="7.4" fill="#5e178c" stroke="#333" stroke-width="0.9"/>
<rect x="113.7" y="558.5" width="25.5" height="64.86" fill="#f0f0f0" stroke="#333" stroke-width="0.9"/>
<rect x="143.6" y="798.2" width="25.5" height="112.8" fill="#f8e86c" stroke="#333" stroke-width="0.9"/>
<rect x="143.6" y="791.15" width="25.5" height="7.05" fill="#fecf66" stroke="#333" stroke-width="0.9"/>
<rect x="143.6" y="721" width="25.5" height="70.15" fill="#f86a6a" stroke="#333" stroke-width="0.9"/>
<rect x="143.6" y="716.42" width="25.5" height="4.58" fill="#a3d433" stroke="#333" stroke-width="0.9"/>
<rect x="143.6" y="711.49" width="25.5" height="4.93" fill="#aeead2" stroke="#333" stroke-width="0.9"/>
<rect x="143.6" y="710.08" width="25.5" height="1.41" fill="#b2e4f0" stroke="#333" stroke-width="0.9"/>
<rect x="143.6" y="676.24" width="25.5" height="33.84" fill="#96cdea" stroke="#333" stroke-width="0.9"/>
<rect x="143.6" y="636.75" width="25.5" height="39.48" fill="#e070b2" stroke="#333" stroke-width="0.9"/>
<rect x="143.6" y="632.88" width="25.5" height="3.88" fill="#bd70d2" stroke="#333" stroke-width="0.9"/>
<rect x="143.6" y="626.53" width="25.5" height="6.35" fill="#5e178c" stroke="#333" stroke-width="0.9"/>
<rect x="143.6" y="558.5" width="25.5" height="68.03" fill="#f0f0f0" stroke="#333" stroke-width="0.9"/>
<rect x="173.5" y="782.34" width="25.5" height="128.66" fill="#f8e86c" stroke="#333" stroke-width="0.9"/>
<rect x="173.5" y="776.35" width="25.5" height="5.99" fill="#fecf66" stroke="#333" stroke-width="0.9"/>
<rect x="173.5" y="707.61" width="25.5" height="68.74" fill="#f86a6a" stroke="#333" stroke-width="0.9"/>
<rect x="173.5" y="702.32" width="25.5" height="5.29" fill="#a3d433" stroke="#333" stroke-width="0.9"/>
<rect x="173.5" y="694.57" width="25.5" height="7.76" fill="#aeead2" stroke="#333" stroke-width="0.9"/>
<rect x="173.5" y="693.51" width="25.5" height="1.06" fill="#b2e4f0" stroke="#333" stroke-width="0.9"/>
<rect x="173.5" y="662.49" width="25.5" height="31.02" fill="#96cdea" stroke="#333" stroke-width="0.9"/>
<rect x="173.5" y="627.59" width="25.5" height="34.9" fill="#e070b2" stroke="#333" stroke-width="0.9"/>
<rect x="173.5" y="623.71" width="25.5" height="3.88" fill="#bd70d2" stroke="#333" stroke-width="0.9"/>
<rect x="173.5" y="620.54" width="25.5" height="3.17" fill="#5e178c" stroke="#333" stroke-width="0.9"/>
<rect x="173.5" y="558.5" width="25.5" height="62.04" fill="#f0f0f0" stroke="#333" stroke-width="0.9"/>
<rect x="203.4" y="798.9" width="25.5" height="112.09" fill="#f8e86c" stroke="#333" stroke-width="0.9"/>
<rect x="203.4" y="790.09" width="25.5" height="8.81" fill="#fecf66" stroke="#333" stroke-width="0.9"/>
<rect x="203.4" y="697.38" width="25.5" height="92.71" fill="#f86a6a" stroke="#333" stroke-width="0.9"/>
<rect x="203.4" y="689.63" width="25.5" height="7.76" fill="#a3d433" stroke="#333" stroke-width="0.9"/>
<rect x="203.4" y="687.16" width="25.5" height="2.47" fill="#aeead2" stroke="#333" stroke-width="0.9"/>
<rect x="203.4" y="685.4" width="25.5" height="1.76" fill="#b2e4f0" stroke="#333" stroke-width="0.9"/>
<rect x="203.4" y="671.3" width="25.5" height="14.1" fill="#96cdea" stroke="#333" stroke-width="0.9"/>
<rect x="203.4" y="627.24" width="25.5" height="44.06" fill="#e070b2" stroke="#333" stroke-width="0.9"/>
<rect x="203.4" y="624.42" width="25.5" height="2.82" fill="#bd70d2" stroke="#333" stroke-width="0.9"/>
<rect x="203.4" y="619.48" width="25.5" height="4.94" fill="#5e178c" stroke="#333" stroke-width="0.9"/>
<rect x="203.4" y="558.5" width="25.5" height="60.98" fill="#f0f0f0" stroke="#333" stroke-width="0.9"/>
<rect x="233.3" y="690.69" width="25.5" height="220.31" fill="#f8e86c" stroke="#333" stroke-width="0.9"/>
<rect x="233.3" y="685.4" width="25.5" height="5.29" fill="#fecf66" stroke="#333" stroke-width="0.9"/>
<rect x="233.3" y="651.56" width="25.5" height="33.84" fill="#f86a6a" stroke="#333" stroke-width="0.9"/>
<rect x="233.3" y="647.33" width="25.5" height="4.23" fill="#a3d433" stroke="#333" stroke-width="0.9"/>
<rect x="233.3" y="638.16" width="25.5" height="9.17" fill="#aeead2" stroke="#333" stroke-width="0.9"/>
<rect x="233.3" y="637.11" width="25.5" height="1.06" fill="#b2e4f0" stroke="#333" stroke-width="0.9"/>
<rect x="233.3" y="627.24" width="25.5" height="9.87" fill="#96cdea" stroke="#333" stroke-width="0.9"/>
<rect x="233.3" y="595.16" width="25.5" height="32.08" fill="#e070b2" stroke="#333" stroke-width="0.9"/>
<rect x="233.3" y="593.4" width="25.5" height="1.76" fill="#bd70d2" stroke="#333" stroke-width="0.9"/>
<rect x="233.3" y="590.58" width="25.5" height="2.82" fill="#5e178c" stroke="#333" stroke-width="0.9"/>
<rect x="233.3" y="558.5" width="25.5" height="32.08" fill="#f0f0f0" stroke="#333" stroke-width="0.9"/>
<rect x="263.2" y="759.42" width="25.5" height="151.57" fill="#f8e86c" stroke="#333" stroke-width="0.9"/>
<rect x="263.2" y="752.38" width="25.5" height="7.05" fill="#fecf66" stroke="#333" stroke-width="0.9"/>
<rect x="263.2" y="700.56" width="25.5" height="51.82" fill="#f86a6a" stroke="#333" stroke-width="0.9"/>
<rect x="263.2" y="696.68" width="25.5" height="3.88" fill="#a3d433" stroke="#333" stroke-width="0.9"/>
<rect x="263.2" y="692.1" width="25.5" height="4.58" fill="#aeead2" stroke="#333" stroke-width="0.9"/>
<rect x="263.2" y="691.04" width="25.5" height="1.06" fill="#b2e4f0" stroke="#333" stroke-width="0.9"/>
<rect x="263.2" y="675.18" width="25.5" height="15.86" fill="#96cdea" stroke="#333" stroke-width="0.9"/>
<rect x="263.2" y="626.18" width="25.5" height="49" fill="#e070b2" stroke="#333" stroke-width="0.9"/>
<rect x="263.2" y="623.36" width="25.5" height="2.82" fill="#bd70d2" stroke="#333" stroke-width="0.9"/>
<rect x="263.2" y="620.54" width="25.5" height="2.82" fill="#5e178c" stroke="#333" stroke-width="0.9"/>
<rect x="263.2" y="558.5" width="25.5" height="62.04" fill="#f0f0f0" stroke="#333" stroke-width="0.9"/>
<rect x="113.7" y="536.6" width="175.5" height="21.9" fill="#f3f7fc" stroke="#333" stroke-width="1"/>
<line x1="126.45" y1="911" x2="126.45" y2="918.8" stroke="#333" stroke-width="1.2"/>
<text x="127.45" y="942.2" font-size="23.5" text-anchor="middle" fill="#111">1</text>
<line x1="156.35" y1="911" x2="156.35" y2="918.8" stroke="#333" stroke-width="1.2"/>
<text x="157.35" y="942.2" font-size="23.5" text-anchor="middle" fill="#111">2</text>
<line x1="186.25" y1="911" x2="186.25" y2="918.8" stroke="#333" stroke-width="1.2"/>
<text x="187.25" y="942.2" font-size="23.5" text-anchor="middle" fill="#111">3</text>
<line x1="216.15" y1="911" x2="216.15" y2="918.8" stroke="#333" stroke-width="1.2"/>
<text x="217.15" y="942.2" font-size="23.5" text-anchor="middle" fill="#111">4</text>
<line x1="246.05" y1="911" x2="246.05" y2="918.8" stroke="#333" stroke-width="1.2"/>
<text x="247.05" y="942.2" font-size="23.5" text-anchor="middle" fill="#111">5</text>
<line x1="275.95" y1="911" x2="275.95" y2="918.8" stroke="#333" stroke-width="1.2"/>
<text x="276.95" y="942.2" font-size="23.5" text-anchor="middle" fill="#111">6</text>
<text x="199.4" y="965.6" font-size="26" text-anchor="middle" fill="#111">Weeks</text>
<line x1="309.5" y1="911" x2="514.9" y2="911" stroke="#333" stroke-width="1.2"/>
<rect x="309.5" y="771.41" width="25.6" height="139.59" fill="#f8e86c" stroke="#333" stroke-width="0.9"/>
<rect x="309.5" y="766.48" width="25.6" height="4.93" fill="#fecf66" stroke="#333" stroke-width="0.9"/>
<rect x="309.5" y="700.56" width="25.6" height="65.92" fill="#f86a6a" stroke="#333" stroke-width="0.9"/>
<rect x="309.5" y="693.86" width="25.6" height="6.7" fill="#a3d433" stroke="#333" stroke-width="0.9"/>
<rect x="309.5" y="683.64" width="25.6" height="10.22" fill="#aeead2" stroke="#333" stroke-width="0.9"/>
<rect x="309.5" y="682.23" width="25.6" height="1.41" fill="#b2e4f0" stroke="#333" stroke-width="0.9"/>
<rect x="309.5" y="654.38" width="25.6" height="27.85" fill="#96cdea" stroke="#333" stroke-width="0.9"/>
<rect x="309.5" y="621.95" width="25.6" height="32.43" fill="#e070b2" stroke="#333" stroke-width="0.9"/>
<rect x="309.5" y="619.48" width="25.6" height="2.47" fill="#bd70d2" stroke="#333" stroke-width="0.9"/>
<rect x="309.5" y="611.73" width="25.6" height="7.76" fill="#5e178c" stroke="#333" stroke-width="0.9"/>
<rect x="309.5" y="558.5" width="25.6" height="53.23" fill="#f0f0f0" stroke="#333" stroke-width="0.9"/>
<rect x="339.42" y="900.42" width="25.6" height="10.57" fill="#f8e86c" stroke="#333" stroke-width="0.9"/>
<rect x="339.42" y="854.95" width="25.6" height="45.47" fill="#fecf66" stroke="#333" stroke-width="0.9"/>
<rect x="339.42" y="845.08" width="25.6" height="9.87" fill="#a3d433" stroke="#333" stroke-width="0.9"/>
<rect x="339.42" y="781.99" width="25.6" height="63.1" fill="#aeead2" stroke="#333" stroke-width="0.9"/>
<rect x="339.42" y="755.55" width="25.6" height="26.44" fill="#b2e4f0" stroke="#333" stroke-width="0.9"/>
<rect x="339.42" y="722.76" width="25.6" height="32.78" fill="#96cdea" stroke="#333" stroke-width="0.9"/>
<rect x="339.42" y="701.62" width="25.6" height="21.15" fill="#e070b2" stroke="#333" stroke-width="0.9"/>
<rect x="339.42" y="650.5" width="25.6" height="51.11" fill="#bd70d2" stroke="#333" stroke-width="0.9"/>
<rect x="339.42" y="630.06" width="25.6" height="20.45" fill="#5e178c" stroke="#333" stroke-width="0.9"/>
<rect x="339.42" y="558.5" width="25.6" height="71.56" fill="#f0f0f0" stroke="#333" stroke-width="0.9"/>
<rect x="369.34" y="897.61" width="25.6" height="13.39" fill="#f8e86c" stroke="#333" stroke-width="0.9"/>
<rect x="369.34" y="851.08" width="25.6" height="46.53" fill="#fecf66" stroke="#333" stroke-width="0.9"/>
<rect x="369.34" y="843.67" width="25.6" height="7.4" fill="#a3d433" stroke="#333" stroke-width="0.9"/>
<rect x="369.34" y="780.22" width="25.6" height="63.45" fill="#aeead2" stroke="#333" stroke-width="0.9"/>
<rect x="369.34" y="757.31" width="25.6" height="22.91" fill="#b2e4f0" stroke="#333" stroke-width="0.9"/>
<rect x="369.34" y="705.85" width="25.6" height="51.46" fill="#96cdea" stroke="#333" stroke-width="0.9"/>
<rect x="369.34" y="692.1" width="25.6" height="13.75" fill="#e070b2" stroke="#333" stroke-width="0.9"/>
<rect x="369.34" y="639.58" width="25.6" height="52.52" fill="#bd70d2" stroke="#333" stroke-width="0.9"/>
<rect x="369.34" y="614.9" width="25.6" height="24.67" fill="#5e178c" stroke="#333" stroke-width="0.9"/>
<rect x="369.34" y="558.5" width="25.6" height="56.4" fill="#f0f0f0" stroke="#333" stroke-width="0.9"/>
<rect x="399.26" y="894.08" width="25.6" height="16.92" fill="#f8e86c" stroke="#333" stroke-width="0.9"/>
<rect x="399.26" y="859.18" width="25.6" height="34.9" fill="#fecf66" stroke="#333" stroke-width="0.9"/>
<rect x="399.26" y="852.13" width="25.6" height="7.05" fill="#a3d433" stroke="#333" stroke-width="0.9"/>
<rect x="399.26" y="781.99" width="25.6" height="70.15" fill="#aeead2" stroke="#333" stroke-width="0.9"/>
<rect x="399.26" y="770.35" width="25.6" height="11.63" fill="#b2e4f0" stroke="#333" stroke-width="0.9"/>
<rect x="399.26" y="713.25" width="25.6" height="57.11" fill="#96cdea" stroke="#333" stroke-width="0.9"/>
<rect x="399.26" y="694.21" width="25.6" height="19.03" fill="#e070b2" stroke="#333" stroke-width="0.9"/>
<rect x="399.26" y="646.27" width="25.6" height="47.94" fill="#bd70d2" stroke="#333" stroke-width="0.9"/>
<rect x="399.26" y="613.14" width="25.6" height="33.13" fill="#5e178c" stroke="#333" stroke-width="0.9"/>
<rect x="399.26" y="558.5" width="25.6" height="54.64" fill="#f0f0f0" stroke="#333" stroke-width="0.9"/>
<rect x="429.18" y="894.08" width="25.6" height="16.92" fill="#f8e86c" stroke="#333" stroke-width="0.9"/>
<rect x="429.18" y="853.19" width="25.6" height="40.89" fill="#fecf66" stroke="#333" stroke-width="0.9"/>
<rect x="429.18" y="841.91" width="25.6" height="11.28" fill="#a3d433" stroke="#333" stroke-width="0.9"/>
<rect x="429.18" y="778.11" width="25.6" height="63.8" fill="#aeead2" stroke="#333" stroke-width="0.9"/>
<rect x="429.18" y="767.18" width="25.6" height="10.93" fill="#b2e4f0" stroke="#333" stroke-width="0.9"/>
<rect x="429.18" y="717.83" width="25.6" height="49.35" fill="#96cdea" stroke="#333" stroke-width="0.9"/>
<rect x="429.18" y="704.43" width="25.6" height="13.39" fill="#e070b2" stroke="#333" stroke-width="0.9"/>
<rect x="429.18" y="642.39" width="25.6" height="62.04" fill="#bd70d2" stroke="#333" stroke-width="0.9"/>
<rect x="429.18" y="623.01" width="25.6" height="19.39" fill="#5e178c" stroke="#333" stroke-width="0.9"/>
<rect x="429.18" y="558.5" width="25.6" height="64.51" fill="#f0f0f0" stroke="#333" stroke-width="0.9"/>
<rect x="459.1" y="838.74" width="25.6" height="72.26" fill="#f8e86c" stroke="#333" stroke-width="0.9"/>
<rect x="459.1" y="810.54" width="25.6" height="28.2" fill="#fecf66" stroke="#333" stroke-width="0.9"/>
<rect x="459.1" y="796.79" width="25.6" height="13.75" fill="#a3d433" stroke="#333" stroke-width="0.9"/>
<rect x="459.1" y="731.93" width="25.6" height="64.86" fill="#aeead2" stroke="#333" stroke-width="0.9"/>
<rect x="459.1" y="719.24" width="25.6" height="12.69" fill="#b2e4f0" stroke="#333" stroke-width="0.9"/>
<rect x="459.1" y="693.51" width="25.6" height="25.73" fill="#96cdea" stroke="#333" stroke-width="0.9"/>
<rect x="459.1" y="680.11" width="25.6" height="13.4" fill="#e070b2" stroke="#333" stroke-width="0.9"/>
<rect x="459.1" y="635.35" width="25.6" height="44.77" fill="#bd70d2" stroke="#333" stroke-width="0.9"/>
<rect x="459.1" y="614.9" width="25.6" height="20.44" fill="#5e178c" stroke="#333" stroke-width="0.9"/>
<rect x="459.1" y="558.5" width="25.6" height="56.4" fill="#f0f0f0" stroke="#333" stroke-width="0.9"/>
<rect x="489.02" y="842.26" width="25.6" height="68.74" fill="#f8e86c" stroke="#333" stroke-width="0.9"/>
<rect x="489.02" y="807.37" width="25.6" height="34.9" fill="#fecf66" stroke="#333" stroke-width="0.9"/>
<rect x="489.02" y="795.03" width="25.6" height="12.34" fill="#a3d433" stroke="#333" stroke-width="0.9"/>
<rect x="489.02" y="725.23" width="25.6" height="69.8" fill="#aeead2" stroke="#333" stroke-width="0.9"/>
<rect x="489.02" y="713.25" width="25.6" height="11.99" fill="#b2e4f0" stroke="#333" stroke-width="0.9"/>
<rect x="489.02" y="692.1" width="25.6" height="21.15" fill="#96cdea" stroke="#333" stroke-width="0.9"/>
<rect x="489.02" y="686.11" width="25.6" height="5.99" fill="#e070b2" stroke="#333" stroke-width="0.9"/>
<rect x="489.02" y="647.68" width="25.6" height="38.42" fill="#bd70d2" stroke="#333" stroke-width="0.9"/>
<rect x="489.02" y="641.69" width="25.6" height="5.99" fill="#5e178c" stroke="#333" stroke-width="0.9"/>
<rect x="489.02" y="558.5" width="25.6" height="83.19" fill="#f0f0f0" stroke="#333" stroke-width="0.9"/>
<rect x="309.5" y="536.8" width="25.6" height="21.8" fill="#fcdada" stroke="#333" stroke-width="1"/>
<rect x="339.7" y="536.8" width="175.2" height="21.8" fill="#c0392b" stroke="#333" stroke-width="1"/>
<line x1="322.3" y1="911" x2="322.3" y2="918.8" stroke="#333" stroke-width="1.2"/>
<text x="322.3" y="940.8" font-size="23.5" text-anchor="middle" fill="#111">0</text>
<line x1="352.22" y1="911" x2="352.22" y2="918.8" stroke="#333" stroke-width="1.2"/>
<text x="352.22" y="940.8" font-size="23.5" text-anchor="middle" fill="#111">1</text>
<line x1="382.14" y1="911" x2="382.14" y2="918.8" stroke="#333" stroke-width="1.2"/>
<text x="382.14" y="940.8" font-size="23.5" text-anchor="middle" fill="#111">2</text>
<line x1="412.06" y1="911" x2="412.06" y2="918.8" stroke="#333" stroke-width="1.2"/>
<text x="412.06" y="940.8" font-size="23.5" text-anchor="middle" fill="#111">3</text>
<line x1="441.98" y1="911" x2="441.98" y2="918.8" stroke="#333" stroke-width="1.2"/>
<text x="441.98" y="940.8" font-size="23.5" text-anchor="middle" fill="#111">4</text>
<line x1="471.9" y1="911" x2="471.9" y2="918.8" stroke="#333" stroke-width="1.2"/>
<text x="471.9" y="940.8" font-size="23.5" text-anchor="middle" fill="#111">5</text>
<line x1="501.82" y1="911" x2="501.82" y2="918.8" stroke="#333" stroke-width="1.2"/>
<text x="501.82" y="940.8" font-size="23.5" text-anchor="middle" fill="#111">6</text>
<text x="416.2" y="964.8" font-size="26" text-anchor="middle" fill="#111">Weeks</text>
<rect x="525.4" y="536.1" width="213.7" height="279.4" fill="#fff" stroke="#555" stroke-width="1.2"/>
<rect x="526" y="536.7" width="212.5" height="25.8" fill="#eaebea" stroke="none" stroke-width="1"/>
<line x1="525.4" y1="562.5" x2="739.1" y2="562.5" stroke="#555" stroke-width="1.2"/>
<text x="530.3" y="555.9" font-size="19.7" text-anchor="start" fill="#111">Taxonomic annotation</text>
<rect x="533" y="568.4" width="23.2" height="14.4" fill="#f0f0f0" stroke="#222" stroke-width="1.2"/>
<text x="564.4" y="582.6" font-size="20" text-anchor="start" fill="#111">Others</text>
<rect x="533" y="589.4" width="23.2" height="14.4" fill="#5e178c" stroke="#222" stroke-width="1.2"/>
<text x="564.4" y="603.6" font-size="20.3" text-anchor="start" fill="#111" font-style="italic">Peptococcaceae</text>
<rect x="533" y="611.1" width="23.2" height="14.4" fill="#bd70d2" stroke="#222" stroke-width="1.2"/>
<text x="564.4" y="625.3" font-size="20.3" text-anchor="start" fill="#111" font-style="italic">Ruminiclostridium</text>
<rect x="533" y="633.1" width="23.2" height="14.4" fill="#e070b2" stroke="#222" stroke-width="1.2"/>
<text x="564.4" y="647.3" font-size="20.3" text-anchor="start" fill="#111" font-style="italic">Lachnospiraceae</text>
<rect x="533" y="655" width="23.2" height="14.4" fill="#96cdea" stroke="#222" stroke-width="1.2"/>
<text x="564.4" y="669.2" font-size="20.3" text-anchor="start" fill="#111" font-style="italic">Bacteroides</text>
<rect x="533" y="677" width="23.2" height="14.4" fill="#b2e4f0" stroke="#222" stroke-width="1.2"/>
<text x="564.4" y="691.2" font-size="20.3" text-anchor="start" fill="#111" font-style="italic">Anaerotruncus</text>
<rect x="533" y="698.7" width="23.2" height="14.4" fill="#aeead2" stroke="#222" stroke-width="1.2"/>
<text x="564.4" y="712.9" font-size="20.3" text-anchor="start" fill="#111" font-style="italic">Akkermansia</text>
<rect x="533" y="725.7" width="23.2" height="14.4" fill="#a3d433" stroke="#222" stroke-width="1.2"/>
<text x="564.4" y="739.9" font-size="20.3" text-anchor="start" fill="#111" font-style="italic">Ruminococcaceae</text>
<rect x="533" y="747.9" width="23.2" height="14.4" fill="#f86a6a" stroke="#222" stroke-width="1.2"/>
<text x="564.4" y="762.1" font-size="20.3" text-anchor="start" fill="#111" font-style="italic">Clostridiales</text>
<rect x="533" y="770.8" width="23.2" height="14.4" fill="#fecf66" stroke="#222" stroke-width="1.2"/>
<text x="564.4" y="785" font-size="20.3" text-anchor="start" fill="#111" font-style="italic">Lachnospiraceae</text>
<rect x="533" y="794.8" width="23.2" height="14.4" fill="#f8e86c" stroke="#222" stroke-width="1.2"/>
<text x="564.4" y="809" font-size="20" text-anchor="start" fill="#111">S24-7</text>
<text x="526.1" y="854.5" font-size="26.4" text-anchor="start" fill="#111">Treatment groups</text>
<rect x="528.6" y="865.7" width="25.9" height="19.7" fill="#f3f7fc" stroke="#555" stroke-width="1"/>
<text x="559.4" y="883" font-size="21" text-anchor="start" fill="#111">Low-fat High-fiber</text>
<rect x="528.6" y="890.8" width="25.9" height="19.3" fill="#fcdada" stroke="#555" stroke-width="1"/>
<text x="561.4" y="906.4" font-size="20.8" text-anchor="start" fill="#111">Pre-HFt-LFb diet switch</text>
<rect x="528.6" y="914.3" width="25.9" height="19.2" fill="#c0392b" stroke="#555" stroke-width="1"/>
<text x="561.4" y="929.8" font-size="21" text-anchor="start" fill="#111">High-fat Low-fiber</text>
<text x="802.1" y="494.4" font-size="47.5" text-anchor="start" fill="#111">E</text>
<text x="925.1" y="537.2" font-size="31.5" text-anchor="start" fill="#111">HIF-1α</text>
<line x1="916.9" y1="547.8" x2="916.9" y2="886.1" stroke="#333" stroke-width="1.2"/>
<line x1="905.1" y1="886.1" x2="1165.3" y2="886.1" stroke="#333" stroke-width="1.2"/>
<line x1="905.1" y1="886.1" x2="916.9" y2="886.1" stroke="#333" stroke-width="1.2"/>
<text x="901" y="895.6" font-size="26.5" text-anchor="end" fill="#111">0.0</text>
<line x1="905.1" y1="818.44" x2="916.9" y2="818.44" stroke="#333" stroke-width="1.2"/>
<text x="901" y="827.94" font-size="26.5" text-anchor="end" fill="#111">0.5</text>
<line x1="905.1" y1="750.78" x2="916.9" y2="750.78" stroke="#333" stroke-width="1.2"/>
<text x="901" y="760.28" font-size="26.5" text-anchor="end" fill="#111">1.0</text>
<line x1="905.1" y1="683.12" x2="916.9" y2="683.12" stroke="#333" stroke-width="1.2"/>
<text x="901" y="692.62" font-size="26.5" text-anchor="end" fill="#111">1.5</text>
<line x1="905.1" y1="615.46" x2="916.9" y2="615.46" stroke="#333" stroke-width="1.2"/>
<text x="901" y="624.96" font-size="26.5" text-anchor="end" fill="#111">2.0</text>
<line x1="905.1" y1="547.8" x2="916.9" y2="547.8" stroke="#333" stroke-width="1.2"/>
<text x="901" y="557.3" font-size="26.5" text-anchor="end" fill="#111">2.5</text>
<line x1="954.5" y1="886.1" x2="954.5" y2="898.7" stroke="#333" stroke-width="1.2"/>
<text x="954.5" y="924.3" font-size="25.8" text-anchor="middle" fill="#111">Ileum</text>
<line x1="1040.5" y1="886.1" x2="1040.5" y2="898.7" stroke="#333" stroke-width="1.2"/>
<text x="1040.5" y="924.3" font-size="25.8" text-anchor="middle" fill="#111">Cecum</text>
<line x1="1126.3" y1="886.1" x2="1126.3" y2="898.7" stroke="#333" stroke-width="1.2"/>
<text x="1126.3" y="924.3" font-size="25.8" text-anchor="middle" fill="#111">Colon</text>
<text x="0" y="0" font-size="27.5" text-anchor="middle" fill="#000" transform="translate(820 719.5) rotate(-90)">Fold Change</text>
<text x="0" y="0" font-size="27.3" text-anchor="middle" fill="#000" transform="translate(853.8 712.8) rotate(-90)">(Relative to LFt-HFb)</text>
<line x1="939.1" y1="750.78" x2="939.1" y2="686.4" stroke="#555" stroke-width="1.2"/>
<line x1="934.6" y1="686.4" x2="943.6" y2="686.4" stroke="#555" stroke-width="1.2"/>
<rect x="929.5" y="750.78" width="19.2" height="135.32" fill="#f4f7fc" stroke="#777" stroke-width="1.1"/>
<line x1="971.4" y1="808.29" x2="971.4" y2="791.6" stroke="#555" stroke-width="1.2"/>
<line x1="966.9" y1="791.6" x2="975.9" y2="791.6" stroke="#555" stroke-width="1.2"/>
<rect x="961.8" y="808.29" width="19.2" height="77.81" fill="#c0392b" stroke="#555" stroke-width="1.1"/>
<line x1="1025.1" y1="750.78" x2="1025.1" y2="735.8" stroke="#555" stroke-width="1.2"/>
<line x1="1020.6" y1="735.8" x2="1029.6" y2="735.8" stroke="#555" stroke-width="1.2"/>
<rect x="1015.5" y="750.78" width="19.2" height="135.32" fill="#f4f7fc" stroke="#777" stroke-width="1.1"/>
<line x1="1057.5" y1="750.78" x2="1057.5" y2="732.5" stroke="#555" stroke-width="1.2"/>
<line x1="1053" y1="732.5" x2="1062" y2="732.5" stroke="#555" stroke-width="1.2"/>
<rect x="1047.9" y="750.78" width="19.2" height="135.32" fill="#c0392b" stroke="#555" stroke-width="1.1"/>
<line x1="1110.9" y1="750.78" x2="1110.9" y2="736.3" stroke="#555" stroke-width="1.2"/>
<line x1="1106.4" y1="736.3" x2="1115.4" y2="736.3" stroke="#555" stroke-width="1.2"/>
<rect x="1101.3" y="750.78" width="19.2" height="135.32" fill="#f4f7fc" stroke="#777" stroke-width="1.1"/>
<line x1="1143.2" y1="829.27" x2="1143.2" y2="823.5" stroke="#555" stroke-width="1.2"/>
<line x1="1138.7" y1="823.5" x2="1147.7" y2="823.5" stroke="#555" stroke-width="1.2"/>
<rect x="1133.6" y="829.27" width="19.2" height="56.83" fill="#c0392b" stroke="#555" stroke-width="1.1"/>
<circle cx="938.9" cy="623.3" r="5.9" fill="#fff" stroke="#222" stroke-width="1.1"/>
<circle cx="938.9" cy="806.8" r="5.9" fill="#fff" stroke="#222" stroke-width="1.1"/>
<circle cx="938.9" cy="822.4" r="5.9" fill="#fff" stroke="#222" stroke-width="1.1"/>
<circle cx="971.5" cy="775.4" r="5.9" fill="#fff" stroke="#222" stroke-width="1.1"/>
<circle cx="967.1" cy="826.8" r="5.9" fill="#fff" stroke="#222" stroke-width="1.1"/>
<circle cx="975.9" cy="820" r="5.9" fill="#fff" stroke="#222" stroke-width="1.1"/>
<circle cx="1024.9" cy="723.1" r="5.9" fill="#fff" stroke="#222" stroke-width="1.1"/>
<circle cx="1024.9" cy="756" r="5.9" fill="#fff" stroke="#222" stroke-width="1.1"/>
<circle cx="1024.9" cy="774.5" r="5.9" fill="#fff" stroke="#222" stroke-width="1.1"/>
<circle cx="1057.3" cy="717.3" r="5.9" fill="#fff" stroke="#222" stroke-width="1.1"/>
<circle cx="1057.3" cy="756" r="5.9" fill="#fff" stroke="#222" stroke-width="1.1"/>
<circle cx="1057.3" cy="778.3" r="5.9" fill="#fff" stroke="#222" stroke-width="1.1"/>
<circle cx="1111" cy="724" r="5.9" fill="#fff" stroke="#222" stroke-width="1.1"/>
<circle cx="1111" cy="756.3" r="5.9" fill="#fff" stroke="#222" stroke-width="1.1"/>
<circle cx="1111" cy="771.6" r="5.9" fill="#fff" stroke="#222" stroke-width="1.1"/>
<circle cx="1139.5" cy="817.7" r="5.9" fill="#fff" stroke="#222" stroke-width="1.1"/>
<circle cx="1146.8" cy="825.9" r="5.9" fill="#fff" stroke="#222" stroke-width="1.1"/>
<circle cx="1143.9" cy="839.7" r="5.9" fill="#fff" stroke="#222" stroke-width="1.1"/>
<line x1="1110.1" y1="702" x2="1156.5" y2="702" stroke="#222" stroke-width="1.1"/>
<text x="1133.6" y="698.5" font-size="25.4" text-anchor="middle" fill="#222">**</text>
<rect x="1036.1" y="547.5" width="14.7" height="14.7" fill="#f4f7fc" stroke="#555" stroke-width="1"/>
<text x="1058.7" y="562.2" font-size="25" text-anchor="start" fill="#111">LFt-HFb</text>
<rect x="1036.1" y="571.3" width="14.7" height="14.7" fill="#c0392b" stroke="#555" stroke-width="1"/>
<text x="1058.7" y="586.6" font-size="25" text-anchor="start" fill="#111">HFt-LFb</text>
<text x="1217.5" y="494.7" font-size="47.5" text-anchor="start" fill="#111">F</text>
<line x1="1322.3" y1="514.4" x2="1322.3" y2="886.5" stroke="#000" stroke-width="1.3"/>
<line x1="1307.7" y1="886.5" x2="1694.4" y2="886.5" stroke="#000" stroke-width="1.3"/>
<line x1="1307.7" y1="886.5" x2="1322.3" y2="886.5" stroke="#000" stroke-width="1.3"/>
<text x="1300.5" y="896.5" font-size="28" text-anchor="end" fill="#111">0</text>
<line x1="1307.7" y1="762.47" x2="1322.3" y2="762.47" stroke="#000" stroke-width="1.3"/>
<text x="1300.5" y="772.47" font-size="28" text-anchor="end" fill="#111">200</text>
<line x1="1307.7" y1="638.43" x2="1322.3" y2="638.43" stroke="#000" stroke-width="1.3"/>
<text x="1300.5" y="648.43" font-size="28" text-anchor="end" fill="#111">400</text>
<line x1="1307.7" y1="514.4" x2="1322.3" y2="514.4" stroke="#000" stroke-width="1.3"/>
<text x="1300.5" y="524.4" font-size="28" text-anchor="end" fill="#111">600</text>
<line x1="1351.9" y1="886.5" x2="1351.9" y2="900.8" stroke="#000" stroke-width="1.3"/>
<text x="1351.9" y="932.6" font-size="26.5" text-anchor="middle" fill="#111">0</text>
<line x1="1396.4" y1="886.5" x2="1396.4" y2="900.8" stroke="#000" stroke-width="1.3"/>
<text x="1396.4" y="932.6" font-size="26.5" text-anchor="middle" fill="#111">15</text>
<line x1="1441.2" y1="886.5" x2="1441.2" y2="900.8" stroke="#000" stroke-width="1.3"/>
<text x="1441.2" y="932.6" font-size="26.5" text-anchor="middle" fill="#111">30</text>
<line x1="1485.8" y1="886.5" x2="1485.8" y2="900.8" stroke="#000" stroke-width="1.3"/>
<text x="1485.8" y="932.6" font-size="26.5" text-anchor="middle" fill="#111">60</text>
<line x1="1664.8" y1="886.5" x2="1664.8" y2="900.8" stroke="#000" stroke-width="1.3"/>
<text x="1664.8" y="932.6" font-size="26.5" text-anchor="middle" fill="#111">120</text>
<text x="1509" y="967.3" font-size="35.5" text-anchor="middle" fill="#111">Time (minutes)</text>
<text x="0" y="0" font-size="30.6" text-anchor="middle" fill="#000" transform="translate(1233.5 701.4) rotate(-90)">Glucose (mg/dL)</text>
<line x1="1351.9" y1="797.1" x2="1351.9" y2="823.6" stroke="#444" stroke-width="1.1"/>
<line x1="1346.9" y1="797.1" x2="1356.9" y2="797.1" stroke="#444" stroke-width="1.1"/>
<line x1="1346.9" y1="823.6" x2="1356.9" y2="823.6" stroke="#444" stroke-width="1.1"/>
<line x1="1396.4" y1="658" x2="1396.4" y2="726.5" stroke="#444" stroke-width="1.1"/>
<line x1="1391.4" y1="658" x2="1401.4" y2="658" stroke="#444" stroke-width="1.1"/>
<line x1="1391.4" y1="726.5" x2="1401.4" y2="726.5" stroke="#444" stroke-width="1.1"/>
<line x1="1441.2" y1="682.9" x2="1441.2" y2="748.9" stroke="#444" stroke-width="1.1"/>
<line x1="1436.2" y1="682.9" x2="1446.2" y2="682.9" stroke="#444" stroke-width="1.1"/>
<line x1="1436.2" y1="748.9" x2="1446.2" y2="748.9" stroke="#444" stroke-width="1.1"/>
<line x1="1485.8" y1="748.9" x2="1485.8" y2="791.8" stroke="#444" stroke-width="1.1"/>
<line x1="1480.8" y1="748.9" x2="1490.8" y2="748.9" stroke="#444" stroke-width="1.1"/>
<line x1="1480.8" y1="791.8" x2="1490.8" y2="791.8" stroke="#444" stroke-width="1.1"/>
<line x1="1664.8" y1="780.6" x2="1664.8" y2="806.5" stroke="#444" stroke-width="1.1"/>
<line x1="1659.8" y1="780.6" x2="1669.8" y2="780.6" stroke="#444" stroke-width="1.1"/>
<line x1="1659.8" y1="806.5" x2="1669.8" y2="806.5" stroke="#444" stroke-width="1.1"/>
<line x1="1351.9" y1="798" x2="1351.9" y2="823.6" stroke="#444" stroke-width="1.1"/>
<line x1="1346.9" y1="798" x2="1356.9" y2="798" stroke="#444" stroke-width="1.1"/>
<line x1="1346.9" y1="823.6" x2="1356.9" y2="823.6" stroke="#444" stroke-width="1.1"/>
<line x1="1396.4" y1="612.8" x2="1396.4" y2="717.1" stroke="#444" stroke-width="1.1"/>
<line x1="1391.4" y1="612.8" x2="1401.4" y2="612.8" stroke="#444" stroke-width="1.1"/>
<line x1="1391.4" y1="717.1" x2="1401.4" y2="717.1" stroke="#444" stroke-width="1.1"/>
<line x1="1441.2" y1="551.8" x2="1441.2" y2="640.5" stroke="#444" stroke-width="1.1"/>
<line x1="1436.2" y1="551.8" x2="1446.2" y2="551.8" stroke="#444" stroke-width="1.1"/>
<line x1="1436.2" y1="640.5" x2="1446.2" y2="640.5" stroke="#444" stroke-width="1.1"/>
<line x1="1485.8" y1="605.7" x2="1485.8" y2="710" stroke="#444" stroke-width="1.1"/>
<line x1="1480.8" y1="605.7" x2="1490.8" y2="605.7" stroke="#444" stroke-width="1.1"/>
<line x1="1480.8" y1="710" x2="1490.8" y2="710" stroke="#444" stroke-width="1.1"/>
<line x1="1664.8" y1="748.3" x2="1664.8" y2="787.8" stroke="#444" stroke-width="1.1"/>
<line x1="1659.8" y1="748.3" x2="1669.8" y2="748.3" stroke="#444" stroke-width="1.1"/>
<line x1="1659.8" y1="787.8" x2="1669.8" y2="787.8" stroke="#444" stroke-width="1.1"/>
<path d="M1351.9 812.7 L1396.4 687.2 L1441.2 716.2 L1485.8 769.7 L1664.8 795" fill="none" stroke="#222" stroke-width="1"/>
<path d="M1351.9 811.1 L1396.4 670.1 L1441.2 596.3 L1485.8 658.6 L1664.8 768.2" fill="none" stroke="#222" stroke-width="1"/>
<circle cx="1351.9" cy="812.7" r="8.7" fill="#f4f7fc" stroke="#222" stroke-width="1"/>
<circle cx="1396.4" cy="687.2" r="8.7" fill="#f4f7fc" stroke="#222" stroke-width="1"/>
<circle cx="1441.2" cy="716.2" r="8.7" fill="#f4f7fc" stroke="#222" stroke-width="1"/>
<circle cx="1485.8" cy="769.7" r="8.7" fill="#f4f7fc" stroke="#222" stroke-width="1"/>
<circle cx="1664.8" cy="795" r="8.7" fill="#f4f7fc" stroke="#222" stroke-width="1"/>
<rect x="1343.2" y="802.4" width="17.4" height="17.4" fill="#c0392b" stroke="#222" stroke-width="1"/>
<rect x="1387.7" y="661.4" width="17.4" height="17.4" fill="#c0392b" stroke="#222" stroke-width="1"/>
<rect x="1432.5" y="587.6" width="17.4" height="17.4" fill="#c0392b" stroke="#222" stroke-width="1"/>
<rect x="1477.1" y="649.9" width="17.4" height="17.4" fill="#c0392b" stroke="#222" stroke-width="1"/>
<rect x="1656.1" y="759.5" width="17.4" height="17.4" fill="#c0392b" stroke="#222" stroke-width="1"/>
<text x="1440.6" y="540" font-size="24.8" text-anchor="middle" fill="#222">***</text>
<text x="1487.3" y="596" font-size="24.8" text-anchor="middle" fill="#222">***</text>
<line x1="1534" y1="829.2" x2="1562" y2="829.2" stroke="#222" stroke-width="1"/>
<circle cx="1548" cy="829.2" r="8.2" fill="#f4f7fc" stroke="#222" stroke-width="1"/>
<text x="1564.8" y="840.2" font-size="27.5" text-anchor="start" fill="#111">LFt-HFb</text>
<line x1="1534" y1="865.6" x2="1562" y2="865.6" stroke="#222" stroke-width="1"/>
<rect x="1539.8" y="857.4" width="16.4" height="16.4" fill="#c0392b" stroke="#222" stroke-width="1"/>
<text x="1564.8" y="876.6" font-size="27.5" text-anchor="start" fill="#111">HFt-LFb</text>
<line x1="1806.5" y1="531.8" x2="1806.5" y2="883.8" stroke="#000" stroke-width="1.3"/>
<line x1="1795.6" y1="883.8" x2="1989" y2="883.8" stroke="#000" stroke-width="1.3"/>
<line x1="1795.6" y1="883.8" x2="1806.5" y2="883.8" stroke="#000" stroke-width="1.3"/>
<text x="1791.8" y="891.8" font-size="21.8" text-anchor="end" fill="#111">0</text>
<line x1="1795.6" y1="795.8" x2="1806.5" y2="795.8" stroke="#000" stroke-width="1.3"/>
<text x="1791.8" y="803.8" font-size="21.8" text-anchor="end" fill="#111">500</text>
<line x1="1795.6" y1="707.8" x2="1806.5" y2="707.8" stroke="#000" stroke-width="1.3"/>
<text x="1791.8" y="715.8" font-size="21.8" text-anchor="end" fill="#111">1000</text>
<line x1="1795.6" y1="619.8" x2="1806.5" y2="619.8" stroke="#000" stroke-width="1.3"/>
<text x="1791.8" y="627.8" font-size="21.8" text-anchor="end" fill="#111">1500</text>
<line x1="1795.6" y1="531.8" x2="1806.5" y2="531.8" stroke="#000" stroke-width="1.3"/>
<text x="1791.8" y="539.8" font-size="21.8" text-anchor="end" fill="#111">2000</text>
<text x="0" y="0" font-size="30.2" text-anchor="middle" fill="#000" transform="translate(1735 713.9) rotate(-90)">Glucose (AUC)</text>
<rect x="1829.7" y="714.49" width="43.5" height="169.31" fill="#f4f7fc" stroke="#666" stroke-width="1.1"/>
<rect x="1920.5" y="656.23" width="43.1" height="227.57" fill="#c0392b" stroke="#555" stroke-width="1.1"/>
<line x1="1851.2" y1="708" x2="1851.2" y2="722" stroke="#222" stroke-width="1.1"/>
<line x1="1846.2" y1="708" x2="1856.2" y2="708" stroke="#222" stroke-width="1.1"/>
<line x1="1846.2" y1="722" x2="1856.2" y2="722" stroke="#222" stroke-width="1.1"/>
<line x1="1942.2" y1="645.5" x2="1942.2" y2="665.4" stroke="#222" stroke-width="1.1"/>
<line x1="1937.2" y1="645.5" x2="1947.2" y2="645.5" stroke="#222" stroke-width="1.1"/>
<line x1="1937.2" y1="665.4" x2="1947.2" y2="665.4" stroke="#222" stroke-width="1.1"/>
<circle cx="1834.4" cy="690.5" r="5.2" fill="#fff" stroke="#222" stroke-width="1"/>
<circle cx="1851.2" cy="687.4" r="5.2" fill="#fff" stroke="#222" stroke-width="1"/>
<circle cx="1869.3" cy="699" r="5.2" fill="#fff" stroke="#222" stroke-width="1"/>
<circle cx="1851.2" cy="706" r="5.2" fill="#fff" stroke="#222" stroke-width="1"/>
<circle cx="1851.2" cy="718.4" r="5.2" fill="#fff" stroke="#222" stroke-width="1"/>
<circle cx="1834.4" cy="722.8" r="5.2" fill="#fff" stroke="#222" stroke-width="1"/>
<circle cx="1869.3" cy="725.4" r="5.2" fill="#fff" stroke="#222" stroke-width="1"/>
<circle cx="1851.2" cy="733.9" r="5.2" fill="#fff" stroke="#222" stroke-width="1"/>
<circle cx="1851.2" cy="750.7" r="5.2" fill="#fff" stroke="#222" stroke-width="1"/>
<circle cx="1942.2" cy="571.1" r="5.2" fill="#fff" stroke="#222" stroke-width="1"/>
<circle cx="1942.2" cy="596.9" r="5.2" fill="#fff" stroke="#222" stroke-width="1"/>
<circle cx="1942.2" cy="610.4" r="5.2" fill="#fff" stroke="#222" stroke-width="1"/>
<circle cx="1924.9" cy="622.8" r="5.2" fill="#fff" stroke="#222" stroke-width="1"/>
<circle cx="1936.5" cy="624.1" r="5.2" fill="#fff" stroke="#222" stroke-width="1"/>
<circle cx="1948.1" cy="632.3" r="5.2" fill="#fff" stroke="#222" stroke-width="1"/>
<circle cx="1948.1" cy="643.4" r="5.2" fill="#fff" stroke="#222" stroke-width="1"/>
<circle cx="1936.5" cy="654.3" r="5.2" fill="#fff" stroke="#222" stroke-width="1"/>
<circle cx="1924.9" cy="666.7" r="5.2" fill="#fff" stroke="#222" stroke-width="1"/>
<circle cx="1936.5" cy="665.4" r="5.2" fill="#fff" stroke="#222" stroke-width="1"/>
<circle cx="1948.1" cy="676.5" r="5.2" fill="#fff" stroke="#222" stroke-width="1"/>
<circle cx="1936.5" cy="685.6" r="5.2" fill="#fff" stroke="#222" stroke-width="1"/>
<circle cx="1924.9" cy="695.7" r="5.2" fill="#fff" stroke="#222" stroke-width="1"/>
<circle cx="1948.1" cy="691.3" r="5.2" fill="#fff" stroke="#222" stroke-width="1"/>
<circle cx="1959.8" cy="694.4" r="5.2" fill="#fff" stroke="#222" stroke-width="1"/>
<circle cx="1948.1" cy="702.1" r="5.2" fill="#fff" stroke="#222" stroke-width="1"/>
<circle cx="1936.5" cy="713.2" r="5.2" fill="#fff" stroke="#222" stroke-width="1"/>
<text x="1940.9" y="554.3" font-size="24.3" text-anchor="middle" fill="#111">***</text>
<line x1="1851.2" y1="883.8" x2="1851.2" y2="894.9" stroke="#000" stroke-width="1.3"/>
<text x="1854.5" y="916.1" font-size="22.7" text-anchor="middle" fill="#111">LFt-HFb</text>
<line x1="1942.2" y1="883.8" x2="1942.2" y2="894.9" stroke="#000" stroke-width="1.3"/>
<text x="1948" y="916.1" font-size="22.7" text-anchor="middle" fill="#111">HFt-LFb</text>
<text x="8.2" y="1057.6" font-size="47.5" text-anchor="start" fill="#111">G</text>
<text x="22.2" y="1149.4" font-size="23" text-anchor="start" fill="#111">Treatment groups</text>
<text x="379" y="1149.2" font-size="26.3" text-anchor="start" fill="#111">Mating</text>
<text x="288.5" y="1161.6" font-size="16.4" text-anchor="middle" fill="#222">Induction of</text>
<text x="288.5" y="1181" font-size="16.4" text-anchor="middle" fill="#222">diet-induced obesity</text>
<text x="703.1" y="1114" font-size="19.4" text-anchor="middle" fill="#222">G. vaginalis</text>
<text x="703.1" y="1137" font-size="19.4" text-anchor="middle" fill="#222">colonization</text>
<text x="844.5" y="1112.6" font-size="19.4" text-anchor="middle" fill="#222">C-section and</text>
<text x="844.5" y="1135.7" font-size="19.4" text-anchor="middle" fill="#222">pup inoculation</text>
<line x1="688.2" y1="1160.1" x2="688.2" y2="1201.5" stroke="#333" stroke-width="1"/>
<path d="M685.9 1199.5 L688.2 1204.4 L690.5 1199.5 Z" fill="#333" stroke="none" stroke-width="1"/>
<line x1="729.4" y1="1160.1" x2="729.4" y2="1201.5" stroke="#333" stroke-width="1"/>
<path d="M727.1 1199.5 L729.4 1204.4 L731.7 1199.5 Z" fill="#333" stroke="none" stroke-width="1"/>
<line x1="816.6" y1="1160.1" x2="816.6" y2="1201.5" stroke="#333" stroke-width="1"/>
<path d="M814.3 1199.5 L816.6 1204.4 L818.9 1199.5 Z" fill="#333" stroke="none" stroke-width="1"/>
<rect x="191.4" y="1194.3" width="198" height="368" fill="none" stroke="#444" stroke-width="1.1" stroke-dasharray="4.5 3.5"/>
<text x="1.1" y="1219" font-size="19.4" text-anchor="start" fill="#111">LFt-HFb</text>
<use href="#mouse" transform="translate(57.2 1203.6) scale(0.81)"/>
<circle cx="211.8" cy="1233.6" r="16.4" fill="#f8f8f8" stroke="#8a8a8a" stroke-width="1.3"/>
<circle cx="239.9" cy="1233.6" r="9.5" fill="#f5f8fd" stroke="#8a8a8a" stroke-width="1.2"/>
<circle cx="260.6" cy="1233.6" r="9.5" fill="#f5f8fd" stroke="#8a8a8a" stroke-width="1.2"/>
<circle cx="281.3" cy="1233.6" r="9.5" fill="#f5f8fd" stroke="#8a8a8a" stroke-width="1.2"/>
<circle cx="302" cy="1233.6" r="9.5" fill="#f5f8fd" stroke="#8a8a8a" stroke-width="1.2"/>
<circle cx="322.7" cy="1233.6" r="9.5" fill="#f5f8fd" stroke="#8a8a8a" stroke-width="1.2"/>
<circle cx="343.4" cy="1233.6" r="9.5" fill="#f5f8fd" stroke="#8a8a8a" stroke-width="1.2"/>
<circle cx="371.1" cy="1233.6" r="16.4" fill="#f5e28e" stroke="#8a8a8a" stroke-width="1.3"/>
<circle cx="407.9" cy="1233.6" r="16.2" fill="#ececec" stroke="#222" stroke-width="1.6"/>
<text x="407.9" y="1244.9" font-size="31" text-anchor="middle" fill="#111">0</text>
<circle cx="436.3" cy="1233.6" r="9.4" fill="#f5f8fd" stroke="#222" stroke-width="1.3"/>
<circle cx="457.02" cy="1233.6" r="9.4" fill="#f5f8fd" stroke="#222" stroke-width="1.3"/>
<circle cx="477.74" cy="1233.6" r="9.4" fill="#f5f8fd" stroke="#222" stroke-width="1.3"/>
<circle cx="498.46" cy="1233.6" r="9.4" fill="#f5f8fd" stroke="#222" stroke-width="1.3"/>
<circle cx="519.18" cy="1233.6" r="9.4" fill="#f5f8fd" stroke="#222" stroke-width="1.3"/>
<circle cx="539.9" cy="1233.6" r="9.4" fill="#f5f8fd" stroke="#222" stroke-width="1.3"/>
<circle cx="560.62" cy="1233.6" r="9.4" fill="#f5f8fd" stroke="#222" stroke-width="1.3"/>
<circle cx="581.34" cy="1233.6" r="9.4" fill="#f5f8fd" stroke="#222" stroke-width="1.3"/>
<circle cx="602.06" cy="1233.6" r="9.4" fill="#f5f8fd" stroke="#222" stroke-width="1.3"/>
<circle cx="622.78" cy="1233.6" r="9.4" fill="#f5f8fd" stroke="#222" stroke-width="1.3"/>
<circle cx="643.5" cy="1233.6" r="9.4" fill="#f5f8fd" stroke="#222" stroke-width="1.3"/>
<circle cx="664.22" cy="1233.6" r="9.4" fill="#f5f8fd" stroke="#222" stroke-width="1.3"/>
<circle cx="684.94" cy="1233.6" r="9.4" fill="#f5f8fd" stroke="#222" stroke-width="1.3"/>
<circle cx="705.66" cy="1233.6" r="9.4" fill="#f5f8fd" stroke="#222" stroke-width="1.3"/>
<circle cx="726.38" cy="1233.6" r="9.4" fill="#f5f8fd" stroke="#222" stroke-width="1.3"/>
<circle cx="747.1" cy="1233.6" r="9.4" fill="#f5f8fd" stroke="#222" stroke-width="1.3"/>
<circle cx="767.82" cy="1233.6" r="9.4" fill="#f5f8fd" stroke="#222" stroke-width="1.3"/>
<circle cx="788.54" cy="1233.6" r="9.4" fill="#f5f8fd" stroke="#222" stroke-width="1.3"/>
<circle cx="815.6" cy="1233.6" r="16.4" fill="#c6ec9a" stroke="#222" stroke-width="1.3"/>
<text x="815.6" y="1238.9" font-size="15" text-anchor="middle" fill="#222">18.5</text>
<text x="0" y="1327.5" font-size="19.4" text-anchor="start" fill="#111">LFt-HFb+Gv</text>
<use href="#mouse" transform="translate(57.2 1302.9) scale(0.81)"/>
<circle cx="211.8" cy="1336.9" r="16.4" fill="#f8f8f8" stroke="#8a8a8a" stroke-width="1.3"/>
<circle cx="239.9" cy="1336.9" r="9.5" fill="#f5f8fd" stroke="#8a8a8a" stroke-width="1.2"/>
<circle cx="260.6" cy="1336.9" r="9.5" fill="#f5f8fd" stroke="#8a8a8a" stroke-width="1.2"/>
<circle cx="281.3" cy="1336.9" r="9.5" fill="#f5f8fd" stroke="#8a8a8a" stroke-width="1.2"/>
<circle cx="302" cy="1336.9" r="9.5" fill="#f5f8fd" stroke="#8a8a8a" stroke-width="1.2"/>
<circle cx="322.7" cy="1336.9" r="9.5" fill="#f5f8fd" stroke="#8a8a8a" stroke-width="1.2"/>
<circle cx="343.4" cy="1336.9" r="9.5" fill="#f5f8fd" stroke="#8a8a8a" stroke-width="1.2"/>
<circle cx="371.1" cy="1336.9" r="16.4" fill="#f5e28e" stroke="#8a8a8a" stroke-width="1.3"/>
<circle cx="407.9" cy="1336.9" r="16.2" fill="#ececec" stroke="#222" stroke-width="1.6"/>
<text x="407.9" y="1348.2" font-size="31" text-anchor="middle" fill="#111">0</text>
<circle cx="436.3" cy="1336.9" r="9.4" fill="#f5f8fd" stroke="#222" stroke-width="1.3"/>
<circle cx="457.02" cy="1336.9" r="9.4" fill="#f5f8fd" stroke="#222" stroke-width="1.3"/>
<circle cx="477.74" cy="1336.9" r="9.4" fill="#f5f8fd" stroke="#222" stroke-width="1.3"/>
<circle cx="498.46" cy="1336.9" r="9.4" fill="#f5f8fd" stroke="#222" stroke-width="1.3"/>
<circle cx="519.18" cy="1336.9" r="9.4" fill="#f5f8fd" stroke="#222" stroke-width="1.3"/>
<circle cx="539.9" cy="1336.9" r="9.4" fill="#f5f8fd" stroke="#222" stroke-width="1.3"/>
<circle cx="560.62" cy="1336.9" r="9.4" fill="#f5f8fd" stroke="#222" stroke-width="1.3"/>
<circle cx="581.34" cy="1336.9" r="9.4" fill="#f5f8fd" stroke="#222" stroke-width="1.3"/>
<circle cx="602.06" cy="1336.9" r="9.4" fill="#f5f8fd" stroke="#222" stroke-width="1.3"/>
<circle cx="622.78" cy="1336.9" r="9.4" fill="#f5f8fd" stroke="#222" stroke-width="1.3"/>
<circle cx="643.5" cy="1336.9" r="9.4" fill="#f5f8fd" stroke="#222" stroke-width="1.3"/>
<circle cx="664.22" cy="1336.9" r="9.4" fill="#f5f8fd" stroke="#222" stroke-width="1.3"/>
<circle cx="684.94" cy="1336.9" r="9.4" fill="#f5f8fd" stroke="#222" stroke-width="1.3"/>
<circle cx="705.66" cy="1336.9" r="9.4" fill="#f5f8fd" stroke="#222" stroke-width="1.3"/>
<circle cx="726.38" cy="1336.9" r="9.4" fill="#f5f8fd" stroke="#222" stroke-width="1.3"/>
<circle cx="747.1" cy="1336.9" r="9.4" fill="#f5f8fd" stroke="#222" stroke-width="1.3"/>
<circle cx="767.82" cy="1336.9" r="9.4" fill="#f5f8fd" stroke="#222" stroke-width="1.3"/>
<circle cx="788.54" cy="1336.9" r="9.4" fill="#f5f8fd" stroke="#222" stroke-width="1.3"/>
<circle cx="683.8" cy="1336.9" r="16.4" fill="#e8b6dc" stroke="#222" stroke-width="1.3"/>
<text x="683.8" y="1342.2" font-size="15" text-anchor="middle" fill="#222">13.5</text>
<circle cx="724.8" cy="1336.9" r="16.4" fill="#e8b6dc" stroke="#222" stroke-width="1.3"/>
<text x="724.8" y="1342.2" font-size="15" text-anchor="middle" fill="#222">15.5</text>
<circle cx="815.6" cy="1336.9" r="16.4" fill="#c6ec9a" stroke="#222" stroke-width="1.3"/>
<text x="815.6" y="1342.2" font-size="15" text-anchor="middle" fill="#222">18.5</text>
<text x="1.2" y="1426.7" font-size="19.4" text-anchor="start" fill="#111">HFt-LFb</text>
<use href="#mouse" transform="translate(57.2 1400.6) scale(0.81)"/>
<circle cx="211.8" cy="1434.6" r="16.4" fill="#f8f8f8" stroke="#8a8a8a" stroke-width="1.3"/>
<circle cx="239.9" cy="1434.6" r="9.5" fill="#eea4a4" stroke="#8a8a8a" stroke-width="1.2"/>
<circle cx="260.6" cy="1434.6" r="9.5" fill="#eea4a4" stroke="#8a8a8a" stroke-width="1.2"/>
<circle cx="281.3" cy="1434.6" r="9.5" fill="#eea4a4" stroke="#8a8a8a" stroke-width="1.2"/>
<circle cx="302" cy="1434.6" r="9.5" fill="#eea4a4" stroke="#8a8a8a" stroke-width="1.2"/>
<circle cx="322.7" cy="1434.6" r="9.5" fill="#eea4a4" stroke="#8a8a8a" stroke-width="1.2"/>
<circle cx="343.4" cy="1434.6" r="9.5" fill="#eea4a4" stroke="#8a8a8a" stroke-width="1.2"/>
<circle cx="371.1" cy="1434.6" r="16.4" fill="#f5e28e" stroke="#8a8a8a" stroke-width="1.3"/>
<circle cx="407.9" cy="1434.6" r="16.2" fill="#ececec" stroke="#222" stroke-width="1.6"/>
<text x="407.9" y="1445.9" font-size="31" text-anchor="middle" fill="#111">0</text>
<circle cx="436.3" cy="1434.6" r="9.4" fill="#c0392b" stroke="#222" stroke-width="1.3"/>
<circle cx="457.02" cy="1434.6" r="9.4" fill="#c0392b" stroke="#222" stroke-width="1.3"/>
<circle cx="477.74" cy="1434.6" r="9.4" fill="#c0392b" stroke="#222" stroke-width="1.3"/>
<circle cx="498.46" cy="1434.6" r="9.4" fill="#c0392b" stroke="#222" stroke-width="1.3"/>
<circle cx="519.18" cy="1434.6" r="9.4" fill="#c0392b" stroke="#222" stroke-width="1.3"/>
<circle cx="539.9" cy="1434.6" r="9.4" fill="#c0392b" stroke="#222" stroke-width="1.3"/>
<circle cx="560.62" cy="1434.6" r="9.4" fill="#c0392b" stroke="#222" stroke-width="1.3"/>
<circle cx="581.34" cy="1434.6" r="9.4" fill="#c0392b" stroke="#222" stroke-width="1.3"/>
<circle cx="602.06" cy="1434.6" r="9.4" fill="#c0392b" stroke="#222" stroke-width="1.3"/>
<circle cx="622.78" cy="1434.6" r="9.4" fill="#c0392b" stroke="#222" stroke-width="1.3"/>
<circle cx="643.5" cy="1434.6" r="9.4" fill="#c0392b" stroke="#222" stroke-width="1.3"/>
<circle cx="664.22" cy="1434.6" r="9.4" fill="#c0392b" stroke="#222" stroke-width="1.3"/>
<circle cx="684.94" cy="1434.6" r="9.4" fill="#c0392b" stroke="#222" stroke-width="1.3"/>
<circle cx="705.66" cy="1434.6" r="9.4" fill="#c0392b" stroke="#222" stroke-width="1.3"/>
<circle cx="726.38" cy="1434.6" r="9.4" fill="#c0392b" stroke="#222" stroke-width="1.3"/>
<circle cx="747.1" cy="1434.6" r="9.4" fill="#c0392b" stroke="#222" stroke-width="1.3"/>
<circle cx="767.82" cy="1434.6" r="9.4" fill="#c0392b" stroke="#222" stroke-width="1.3"/>
<circle cx="788.54" cy="1434.6" r="9.4" fill="#c0392b" stroke="#222" stroke-width="1.3"/>
<circle cx="815.6" cy="1434.6" r="16.4" fill="#c6ec9a" stroke="#222" stroke-width="1.3"/>
<text x="815.6" y="1439.9" font-size="15" text-anchor="middle" fill="#222">18.5</text>
<text x="2.4" y="1517.5" font-size="19.4" text-anchor="start" fill="#111">HFt-LFb+Gv</text>
<use href="#mouse" transform="translate(57.2 1496.5) scale(0.81)"/>
<circle cx="211.8" cy="1530.5" r="16.4" fill="#f8f8f8" stroke="#8a8a8a" stroke-width="1.3"/>
<circle cx="239.9" cy="1530.5" r="9.5" fill="#eea4a4" stroke="#8a8a8a" stroke-width="1.2"/>
<circle cx="260.6" cy="1530.5" r="9.5" fill="#eea4a4" stroke="#8a8a8a" stroke-width="1.2"/>
<circle cx="281.3" cy="1530.5" r="9.5" fill="#eea4a4" stroke="#8a8a8a" stroke-width="1.2"/>
<circle cx="302" cy="1530.5" r="9.5" fill="#eea4a4" stroke="#8a8a8a" stroke-width="1.2"/>
<circle cx="322.7" cy="1530.5" r="9.5" fill="#eea4a4" stroke="#8a8a8a" stroke-width="1.2"/>
<circle cx="343.4" cy="1530.5" r="9.5" fill="#eea4a4" stroke="#8a8a8a" stroke-width="1.2"/>
<circle cx="371.1" cy="1530.5" r="16.4" fill="#f5e28e" stroke="#8a8a8a" stroke-width="1.3"/>
<circle cx="407.9" cy="1530.5" r="16.2" fill="#ececec" stroke="#222" stroke-width="1.6"/>
<text x="407.9" y="1541.8" font-size="31" text-anchor="middle" fill="#111">0</text>
<circle cx="436.3" cy="1530.5" r="9.4" fill="#c0392b" stroke="#222" stroke-width="1.3"/>
<circle cx="457.02" cy="1530.5" r="9.4" fill="#c0392b" stroke="#222" stroke-width="1.3"/>
<circle cx="477.74" cy="1530.5" r="9.4" fill="#c0392b" stroke="#222" stroke-width="1.3"/>
<circle cx="498.46" cy="1530.5" r="9.4" fill="#c0392b" stroke="#222" stroke-width="1.3"/>
<circle cx="519.18" cy="1530.5" r="9.4" fill="#c0392b" stroke="#222" stroke-width="1.3"/>
<circle cx="539.9" cy="1530.5" r="9.4" fill="#c0392b" stroke="#222" stroke-width="1.3"/>
<circle cx="560.62" cy="1530.5" r="9.4" fill="#c0392b" stroke="#222" stroke-width="1.3"/>
<circle cx="581.34" cy="1530.5" r="9.4" fill="#c0392b" stroke="#222" stroke-width="1.3"/>
<circle cx="602.06" cy="1530.5" r="9.4" fill="#c0392b" stroke="#222" stroke-width="1.3"/>
<circle cx="622.78" cy="1530.5" r="9.4" fill="#c0392b" stroke="#222" stroke-width="1.3"/>
<circle cx="643.5" cy="1530.5" r="9.4" fill="#c0392b" stroke="#222" stroke-width="1.3"/>
<circle cx="664.22" cy="1530.5" r="9.4" fill="#c0392b" stroke="#222" stroke-width="1.3"/>
<circle cx="684.94" cy="1530.5" r="9.4" fill="#c0392b" stroke="#222" stroke-width="1.3"/>
<circle cx="705.66" cy="1530.5" r="9.4" fill="#c0392b" stroke="#222" stroke-width="1.3"/>
<circle cx="726.38" cy="1530.5" r="9.4" fill="#c0392b" stroke="#222" stroke-width="1.3"/>
<circle cx="747.1" cy="1530.5" r="9.4" fill="#c0392b" stroke="#222" stroke-width="1.3"/>
<circle cx="767.82" cy="1530.5" r="9.4" fill="#c0392b" stroke="#222" stroke-width="1.3"/>
<circle cx="788.54" cy="1530.5" r="9.4" fill="#c0392b" stroke="#222" stroke-width="1.3"/>
<circle cx="683.8" cy="1530.5" r="16.4" fill="#e8b6dc" stroke="#222" stroke-width="1.3"/>
<text x="683.8" y="1535.8" font-size="15" text-anchor="middle" fill="#222">13.5</text>
<circle cx="724.8" cy="1530.5" r="16.4" fill="#e8b6dc" stroke="#222" stroke-width="1.3"/>
<text x="724.8" y="1535.8" font-size="15" text-anchor="middle" fill="#222">15.5</text>
<circle cx="815.6" cy="1530.5" r="16.4" fill="#c6ec9a" stroke="#222" stroke-width="1.3"/>
<text x="815.6" y="1535.8" font-size="15" text-anchor="middle" fill="#222">18.5</text>
<text x="397.6" y="1599.9" font-size="21" text-anchor="start" fill="#111">Day of pregnancy</text>
<line x1="571.4" y1="1595.9" x2="800" y2="1595.9" stroke="#555" stroke-width="1"/>
<path d="M798 1593.9 L803.5 1595.9 L798 1597.9 Z" fill="#555" stroke="none" stroke-width="1"/>
<rect x="63.4" y="1592" width="250.7" height="108.2" fill="#fff" stroke="#222" stroke-width="1.4" rx="12"/>
<circle cx="88.3" cy="1612.4" r="9.4" fill="#f5f8fd" stroke="#222" stroke-width="1.2"/>
<circle cx="88.3" cy="1648.2" r="9.4" fill="#c0392b" stroke="#222" stroke-width="1.2"/>
<circle cx="88.3" cy="1681.6" r="9.4" fill="#cc38a8" stroke="#222" stroke-width="1.2"/>
<text x="105.3" y="1615.5" font-size="13.5" text-anchor="start" fill="#111">Low fat-High fiber diet (LFt-HFb)</text>
<text x="105.3" y="1653" font-size="13.5" text-anchor="start" fill="#111">High fat-Low fiber diet (HFt-LFb)</text>
<text x="105.3" y="1686.9" font-size="13.5" fill="#111"><tspan font-style="italic">G. vaginalis</tspan> 11E4 inoculation</text>
<text x="958.5" y="1056.9" font-size="47.5" text-anchor="start" fill="#111">H</text>
<line x1="1062.2" y1="1110.8" x2="1062.2" y2="1571" stroke="#111" stroke-width="1.3"/>
<line x1="1045.7" y1="1571" x2="1368.2" y2="1571" stroke="#111" stroke-width="1.3"/>
<line x1="1045" y1="1571" x2="1062.2" y2="1571" stroke="#111" stroke-width="1.3"/>
<line x1="1052.8" y1="1524.98" x2="1062.2" y2="1524.98" stroke="#111" stroke-width="1.3"/>
<line x1="1052.8" y1="1478.96" x2="1062.2" y2="1478.96" stroke="#111" stroke-width="1.3"/>
<line x1="1052.8" y1="1432.94" x2="1062.2" y2="1432.94" stroke="#111" stroke-width="1.3"/>
<line x1="1052.8" y1="1386.92" x2="1062.2" y2="1386.92" stroke="#111" stroke-width="1.3"/>
<line x1="1045" y1="1340.9" x2="1062.2" y2="1340.9" stroke="#111" stroke-width="1.3"/>
<line x1="1052.8" y1="1294.88" x2="1062.2" y2="1294.88" stroke="#111" stroke-width="1.3"/>
<line x1="1052.8" y1="1248.86" x2="1062.2" y2="1248.86" stroke="#111" stroke-width="1.3"/>
<line x1="1052.8" y1="1202.84" x2="1062.2" y2="1202.84" stroke="#111" stroke-width="1.3"/>
<line x1="1052.8" y1="1156.82" x2="1062.2" y2="1156.82" stroke="#111" stroke-width="1.3"/>
<line x1="1045" y1="1110.8" x2="1062.2" y2="1110.8" stroke="#111" stroke-width="1.3"/>
<text x="1042.3" y="1123" font-size="34" text-anchor="end" fill="#111">100</text>
<text x="1042.3" y="1353.1" font-size="34" text-anchor="end" fill="#111">50</text>
<text x="1042.3" y="1583.2" font-size="34" text-anchor="end" fill="#111">0</text>
<line x1="1062.2" y1="1571" x2="1062.2" y2="1585.2" stroke="#111" stroke-width="1.3"/>
<line x1="1127" y1="1571" x2="1127" y2="1585.2" stroke="#111" stroke-width="1.3"/>
<line x1="1192" y1="1571" x2="1192" y2="1585.2" stroke="#111" stroke-width="1.3"/>
<line x1="1368.2" y1="1571" x2="1368.2" y2="1585.2" stroke="#111" stroke-width="1.3"/>
<text x="1062" y="1621.5" font-size="34" text-anchor="middle" fill="#111">0</text>
<text x="1127" y="1621.5" font-size="34" text-anchor="middle" fill="#111">1</text>
<text x="1192" y="1621.5" font-size="34" text-anchor="middle" fill="#111">2</text>
<text x="1258.3" y="1621.5" font-size="34" text-anchor="middle" fill="#111">3</text>
<text x="1296.5" y="1621.5" font-size="34" text-anchor="middle" fill="#111">4</text>
<text x="1368" y="1621.5" font-size="34" text-anchor="middle" fill="#111">28</text>
<line x1="1245.7" y1="1583.2" x2="1269.3" y2="1559.6" stroke="#111" stroke-width="1.3"/>
<line x1="1285.5" y1="1583.2" x2="1309.1" y2="1559.6" stroke="#111" stroke-width="1.3"/>
<text x="1215.4" y="1680.8" font-size="37" text-anchor="middle" fill="#111">Postnatal Days</text>
<text x="0" y="0" font-size="36.8" text-anchor="middle" fill="#000" transform="translate(991.5 1340.3) rotate(-90)">Percent survival</text>
<path d="M1062.2 1111.2 H1192 V1237.2 H1264.6" fill="none" stroke="#aaa9a4" stroke-width="4" stroke-linecap="round" stroke-linejoin="miter"/>
<path d="M1289.8 1237.2 H1368" fill="none" stroke="#aaa9a4" stroke-width="4" stroke-linecap="round" stroke-linejoin="miter"/>
<path d="M1206.9 1111.2 H1265" fill="none" stroke="#aaa9a4" stroke-width="4" stroke-linecap="round" stroke-linejoin="miter" stroke-dasharray="20.2 14.05 0.01 14.05"/>
<path d="M1289.8 1111.2 H1368" fill="none" stroke="#aaa9a4" stroke-width="4" stroke-linecap="round" stroke-linejoin="miter" stroke-dasharray="20.2 14.05 0.01 14.05"/>
<path d="M1062.2 1111.2 H1127 V1249.8 H1192 V1386.9 H1264.6" fill="none" stroke="#0a0a0a" stroke-width="4" stroke-linecap="round" stroke-linejoin="miter"/>
<path d="M1289.8 1386.9 H1368" fill="none" stroke="#0a0a0a" stroke-width="4" stroke-linecap="round" stroke-linejoin="miter"/>
<path d="M1062.2 1111.2 H1192 V1188.1 H1265" fill="none" stroke="#0a0a0a" stroke-width="4" stroke-linecap="round" stroke-linejoin="miter" stroke-dasharray="20.2 14.05 0.01 14.05" stroke-dashoffset="47.75"/>
<path d="M1290.6 1188.1 H1368" fill="none" stroke="#0a0a0a" stroke-width="4" stroke-linecap="round" stroke-linejoin="miter" stroke-dasharray="20.2 14.05 0.01 14.05"/>
<circle cx="1127" cy="1249.8" r="3.8" fill="#fff" stroke="#000" stroke-width="1.6"/>
<circle cx="1192" cy="1188.1" r="3.8" fill="#fff" stroke="#000" stroke-width="1.6"/>
<circle cx="1192" cy="1237.2" r="3.8" fill="#fff" stroke="#000" stroke-width="1.6"/>
<circle cx="1192" cy="1386.9" r="3.8" fill="#fff" stroke="#000" stroke-width="1.6"/>
<circle cx="1368.2" cy="1111.2" r="3.8" fill="#fff" stroke="#000" stroke-width="1.6"/>
<circle cx="1368.2" cy="1188.1" r="3.8" fill="#fff" stroke="#000" stroke-width="1.6"/>
<circle cx="1368.2" cy="1237.2" r="3.8" fill="#fff" stroke="#000" stroke-width="1.6"/>
<circle cx="1368.2" cy="1386.9" r="3.8" fill="#fff" stroke="#000" stroke-width="1.6"/>
<line x1="1076" y1="1427.2" x2="1096.5" y2="1427.2" stroke="#aaa9a4" stroke-width="7" stroke-linecap="round"/>
<circle cx="1110.2" cy="1427.2" r="3.5" fill="#aaa9a4" stroke="none" stroke-width="0"/>
<circle cx="1124.5" cy="1427.2" r="3.5" fill="#aaa9a4" stroke="none" stroke-width="0"/>
<line x1="1076" y1="1465.7" x2="1124.9" y2="1465.7" stroke="#aaa9a4" stroke-width="7" stroke-linecap="round"/>
<line x1="1074.5" y1="1505.9" x2="1094.9" y2="1505.9" stroke="#0a0a0a" stroke-width="7" stroke-linecap="round"/>
<circle cx="1108.6" cy="1505.9" r="3.6" fill="#0a0a0a" stroke="none" stroke-width="0"/>
<circle cx="1122.9" cy="1505.9" r="3.6" fill="#0a0a0a" stroke="none" stroke-width="0"/>
<line x1="1076" y1="1542.6" x2="1124.9" y2="1542.6" stroke="#0a0a0a" stroke-width="7" stroke-linecap="round"/>
<text x="1153.4" y="1438.9" font-size="37" text-anchor="start" fill="#111">LFt-HFb</text>
<text x="1153.4" y="1477.6" font-size="37" text-anchor="start" fill="#111">LFt-HFb+Gv</text>
<text x="1153.4" y="1516.1" font-size="37" text-anchor="start" fill="#111">HFt-LFb</text>
<text x="1153.4" y="1554.1" font-size="37" text-anchor="start" fill="#111">HFt-LFb+Gv</text>
<text x="1475.9" y="1057.1" font-size="47.5" text-anchor="start" fill="#111">I</text>
<line x1="1664.6" y1="1108.8" x2="1664.6" y2="1508.2" stroke="#000" stroke-width="1.3"/>
<line x1="1651.1" y1="1508.2" x2="1925.6" y2="1508.2" stroke="#000" stroke-width="1.3"/>
<line x1="1651.1" y1="1508.2" x2="1664.6" y2="1508.2" stroke="#000" stroke-width="1.3"/>
<text x="1647.9" y="1518.2" font-size="27.5" text-anchor="end" fill="#111">0</text>
<line x1="1651.1" y1="1408.35" x2="1664.6" y2="1408.35" stroke="#000" stroke-width="1.3"/>
<text x="1647.9" y="1418.35" font-size="27.5" text-anchor="end" fill="#111">1</text>
<line x1="1651.1" y1="1308.5" x2="1664.6" y2="1308.5" stroke="#000" stroke-width="1.3"/>
<text x="1647.9" y="1318.5" font-size="27.5" text-anchor="end" fill="#111">2</text>
<line x1="1651.1" y1="1208.65" x2="1664.6" y2="1208.65" stroke="#000" stroke-width="1.3"/>
<text x="1647.9" y="1218.65" font-size="27.5" text-anchor="end" fill="#111">3</text>
<line x1="1651.1" y1="1108.8" x2="1664.6" y2="1108.8" stroke="#000" stroke-width="1.3"/>
<text x="1647.9" y="1118.8" font-size="27.5" text-anchor="end" fill="#111">4</text>
<text x="0" y="0" font-size="31.8" text-anchor="middle" fill="#000" transform="translate(1554.5 1303.8) rotate(-90)">Absolute Neutrophil</text>
<text x="0" y="0" font-size="31.8" text-anchor="middle" fill="#000" transform="translate(1595.5 1304.9) rotate(-90)">Counts (x 10<tspan dy="-11" font-size="20">3</tspan><tspan dy="11">/μl)</tspan></text>
<line x1="1704" y1="1314.2" x2="1704" y2="1367.9" stroke="#000" stroke-width="1.3"/>
<line x1="1697" y1="1314.2" x2="1711" y2="1314.2" stroke="#000" stroke-width="1.3"/>
<line x1="1697" y1="1367.9" x2="1711" y2="1367.9" stroke="#000" stroke-width="1.3"/>
<line x1="1695" y1="1340.6" x2="1713" y2="1340.6" stroke="#000" stroke-width="1.3"/>
<line x1="1765" y1="1343.5" x2="1765" y2="1403.7" stroke="#000" stroke-width="1.3"/>
<line x1="1758" y1="1343.5" x2="1772" y2="1343.5" stroke="#000" stroke-width="1.3"/>
<line x1="1758" y1="1403.7" x2="1772" y2="1403.7" stroke="#000" stroke-width="1.3"/>
<line x1="1756" y1="1373.2" x2="1774" y2="1373.2" stroke="#000" stroke-width="1.3"/>
<line x1="1824.8" y1="1249.9" x2="1824.8" y2="1300.8" stroke="#000" stroke-width="1.3"/>
<line x1="1817.8" y1="1249.9" x2="1831.8" y2="1249.9" stroke="#000" stroke-width="1.3"/>
<line x1="1817.8" y1="1300.8" x2="1831.8" y2="1300.8" stroke="#000" stroke-width="1.3"/>
<line x1="1815.8" y1="1275.6" x2="1833.8" y2="1275.6" stroke="#000" stroke-width="1.3"/>
<line x1="1884.2" y1="1144.2" x2="1884.2" y2="1203.2" stroke="#000" stroke-width="1.3"/>
<line x1="1877.2" y1="1144.2" x2="1891.2" y2="1144.2" stroke="#000" stroke-width="1.3"/>
<line x1="1877.2" y1="1203.2" x2="1891.2" y2="1203.2" stroke="#000" stroke-width="1.3"/>
<line x1="1875.2" y1="1173.5" x2="1893.2" y2="1173.5" stroke="#000" stroke-width="1.3"/>
<circle cx="1704" cy="1290.6" r="7.7" fill="#ebebeb" stroke="#111" stroke-width="1.5"/>
<circle cx="1704" cy="1351.6" r="7.7" fill="#ebebeb" stroke="#111" stroke-width="1.5"/>
<circle cx="1704" cy="1379.3" r="7.7" fill="#ebebeb" stroke="#111" stroke-width="1.5"/>
<circle cx="1824.8" cy="1223.5" r="7.7" fill="#268a9c" stroke="#111" stroke-width="1.5"/>
<circle cx="1824.8" cy="1250.7" r="7.7" fill="#268a9c" stroke="#111" stroke-width="1.5"/>
<circle cx="1824.8" cy="1286.5" r="7.7" fill="#268a9c" stroke="#111" stroke-width="1.5"/>
<circle cx="1824.8" cy="1341.4" r="7.7" fill="#268a9c" stroke="#111" stroke-width="1.5"/>
<circle cx="1884.2" cy="1133.2" r="7.7" fill="#7a1fa2" stroke="#111" stroke-width="1.5"/>
<circle cx="1884.2" cy="1155.2" r="7.7" fill="#7a1fa2" stroke="#111" stroke-width="1.5"/>
<circle cx="1884.2" cy="1231.6" r="7.7" fill="#7a1fa2" stroke="#111" stroke-width="1.5"/>
<circle cx="1752" cy="1297.9" r="7.7" fill="#f0a018" stroke="#111" stroke-width="1.5"/>
<circle cx="1776.4" cy="1302.8" r="7.7" fill="#f0a018" stroke="#111" stroke-width="1.5"/>
<circle cx="1752" cy="1410.6" r="7.7" fill="#f0a018" stroke="#111" stroke-width="1.5"/>
<circle cx="1776.4" cy="1414.6" r="7.7" fill="#f0a018" stroke="#111" stroke-width="1.5"/>
<circle cx="1764.2" cy="1441.1" r="7.7" fill="#f0a018" stroke="#111" stroke-width="1.5"/>
<line x1="1704" y1="1314.2" x2="1704" y2="1367.9" stroke="#000" stroke-width="1.3"/>
<line x1="1695" y1="1340.6" x2="1713" y2="1340.6" stroke="#000" stroke-width="1.3"/>
<line x1="1824.8" y1="1249.9" x2="1824.8" y2="1300.8" stroke="#000" stroke-width="1.3"/>
<line x1="1815.8" y1="1275.6" x2="1833.8" y2="1275.6" stroke="#000" stroke-width="1.3"/>
<line x1="1884.2" y1="1144.2" x2="1884.2" y2="1203.2" stroke="#000" stroke-width="1.3"/>
<line x1="1875.2" y1="1173.5" x2="1893.2" y2="1173.5" stroke="#000" stroke-width="1.3"/>
<line x1="1706" y1="1087" x2="1886.2" y2="1087" stroke="#000" stroke-width="1.6"/>
<text x="1795.5" y="1085" font-size="29" text-anchor="middle" fill="#111">*</text>
<line x1="1780.5" y1="1106.8" x2="1886.2" y2="1106.8" stroke="#000" stroke-width="1.6"/>
<text x="1827.2" y="1110.2" font-size="29" text-anchor="middle" fill="#111">**</text>
<text x="1477.5" y="1549.3" font-size="35.2" text-anchor="start" fill="#111">C-Section</text>
<line x1="1689.5" y1="1537.4" x2="1707.9" y2="1537.4" stroke="#111" stroke-width="2"/>
<line x1="1756" y1="1537.4" x2="1772.4" y2="1537.4" stroke="#111" stroke-width="2"/>
<line x1="1764.2" y1="1529.2" x2="1764.2" y2="1545.6" stroke="#111" stroke-width="2"/>
<line x1="1815.8" y1="1537.4" x2="1832.2" y2="1537.4" stroke="#111" stroke-width="2"/>
<line x1="1824" y1="1529.2" x2="1824" y2="1545.6" stroke="#111" stroke-width="2"/>
<line x1="1874.8" y1="1537.4" x2="1891.2" y2="1537.4" stroke="#111" stroke-width="2"/>
<line x1="1883" y1="1529.2" x2="1883" y2="1545.6" stroke="#111" stroke-width="2"/>
<text x="1474.1" y="1597.1" font-size="35.2" text-anchor="start" fill="#111">HFt-LFb</text>
<line x1="1689.5" y1="1584.6" x2="1707.9" y2="1584.6" stroke="#111" stroke-width="2"/>
<line x1="1755" y1="1584.6" x2="1773.4" y2="1584.6" stroke="#111" stroke-width="2"/>
<line x1="1815.8" y1="1584.6" x2="1832.2" y2="1584.6" stroke="#111" stroke-width="2"/>
<line x1="1824" y1="1576.4" x2="1824" y2="1592.8" stroke="#111" stroke-width="2"/>
<line x1="1874.8" y1="1584.6" x2="1891.2" y2="1584.6" stroke="#111" stroke-width="2"/>
<line x1="1883" y1="1576.4" x2="1883" y2="1592.8" stroke="#111" stroke-width="2"/>
<text x="1478" y="1640.2" font-size="35.2" text-anchor="start" fill="#111" font-style="italic">G. vaginalis</text>
<line x1="1689.5" y1="1633.4" x2="1707.9" y2="1633.4" stroke="#111" stroke-width="2"/>
<line x1="1755" y1="1633.4" x2="1773.4" y2="1633.4" stroke="#111" stroke-width="2"/>
<line x1="1814.8" y1="1633.4" x2="1833.2" y2="1633.4" stroke="#111" stroke-width="2"/>
<line x1="1874.8" y1="1633.4" x2="1891.2" y2="1633.4" stroke="#111" stroke-width="2"/>
<line x1="1883" y1="1625.2" x2="1883" y2="1641.6" stroke="#111" stroke-width="2"/>
<text x="1477.5" y="1692" font-size="35.2" text-anchor="start" fill="#111">CST IV</text>
<line x1="1689.5" y1="1683" x2="1707.9" y2="1683" stroke="#111" stroke-width="2"/>
<line x1="1756" y1="1683" x2="1772.4" y2="1683" stroke="#111" stroke-width="2"/>
<line x1="1764.2" y1="1674.8" x2="1764.2" y2="1691.2" stroke="#111" stroke-width="2"/>
<line x1="1815.8" y1="1683" x2="1832.2" y2="1683" stroke="#111" stroke-width="2"/>
<line x1="1824" y1="1674.8" x2="1824" y2="1691.2" stroke="#111" stroke-width="2"/>
<line x1="1874.8" y1="1683" x2="1891.2" y2="1683" stroke="#111" stroke-width="2"/>
<line x1="1883" y1="1674.8" x2="1883" y2="1691.2" stroke="#111" stroke-width="2"/>
</svg>
</body></html>
